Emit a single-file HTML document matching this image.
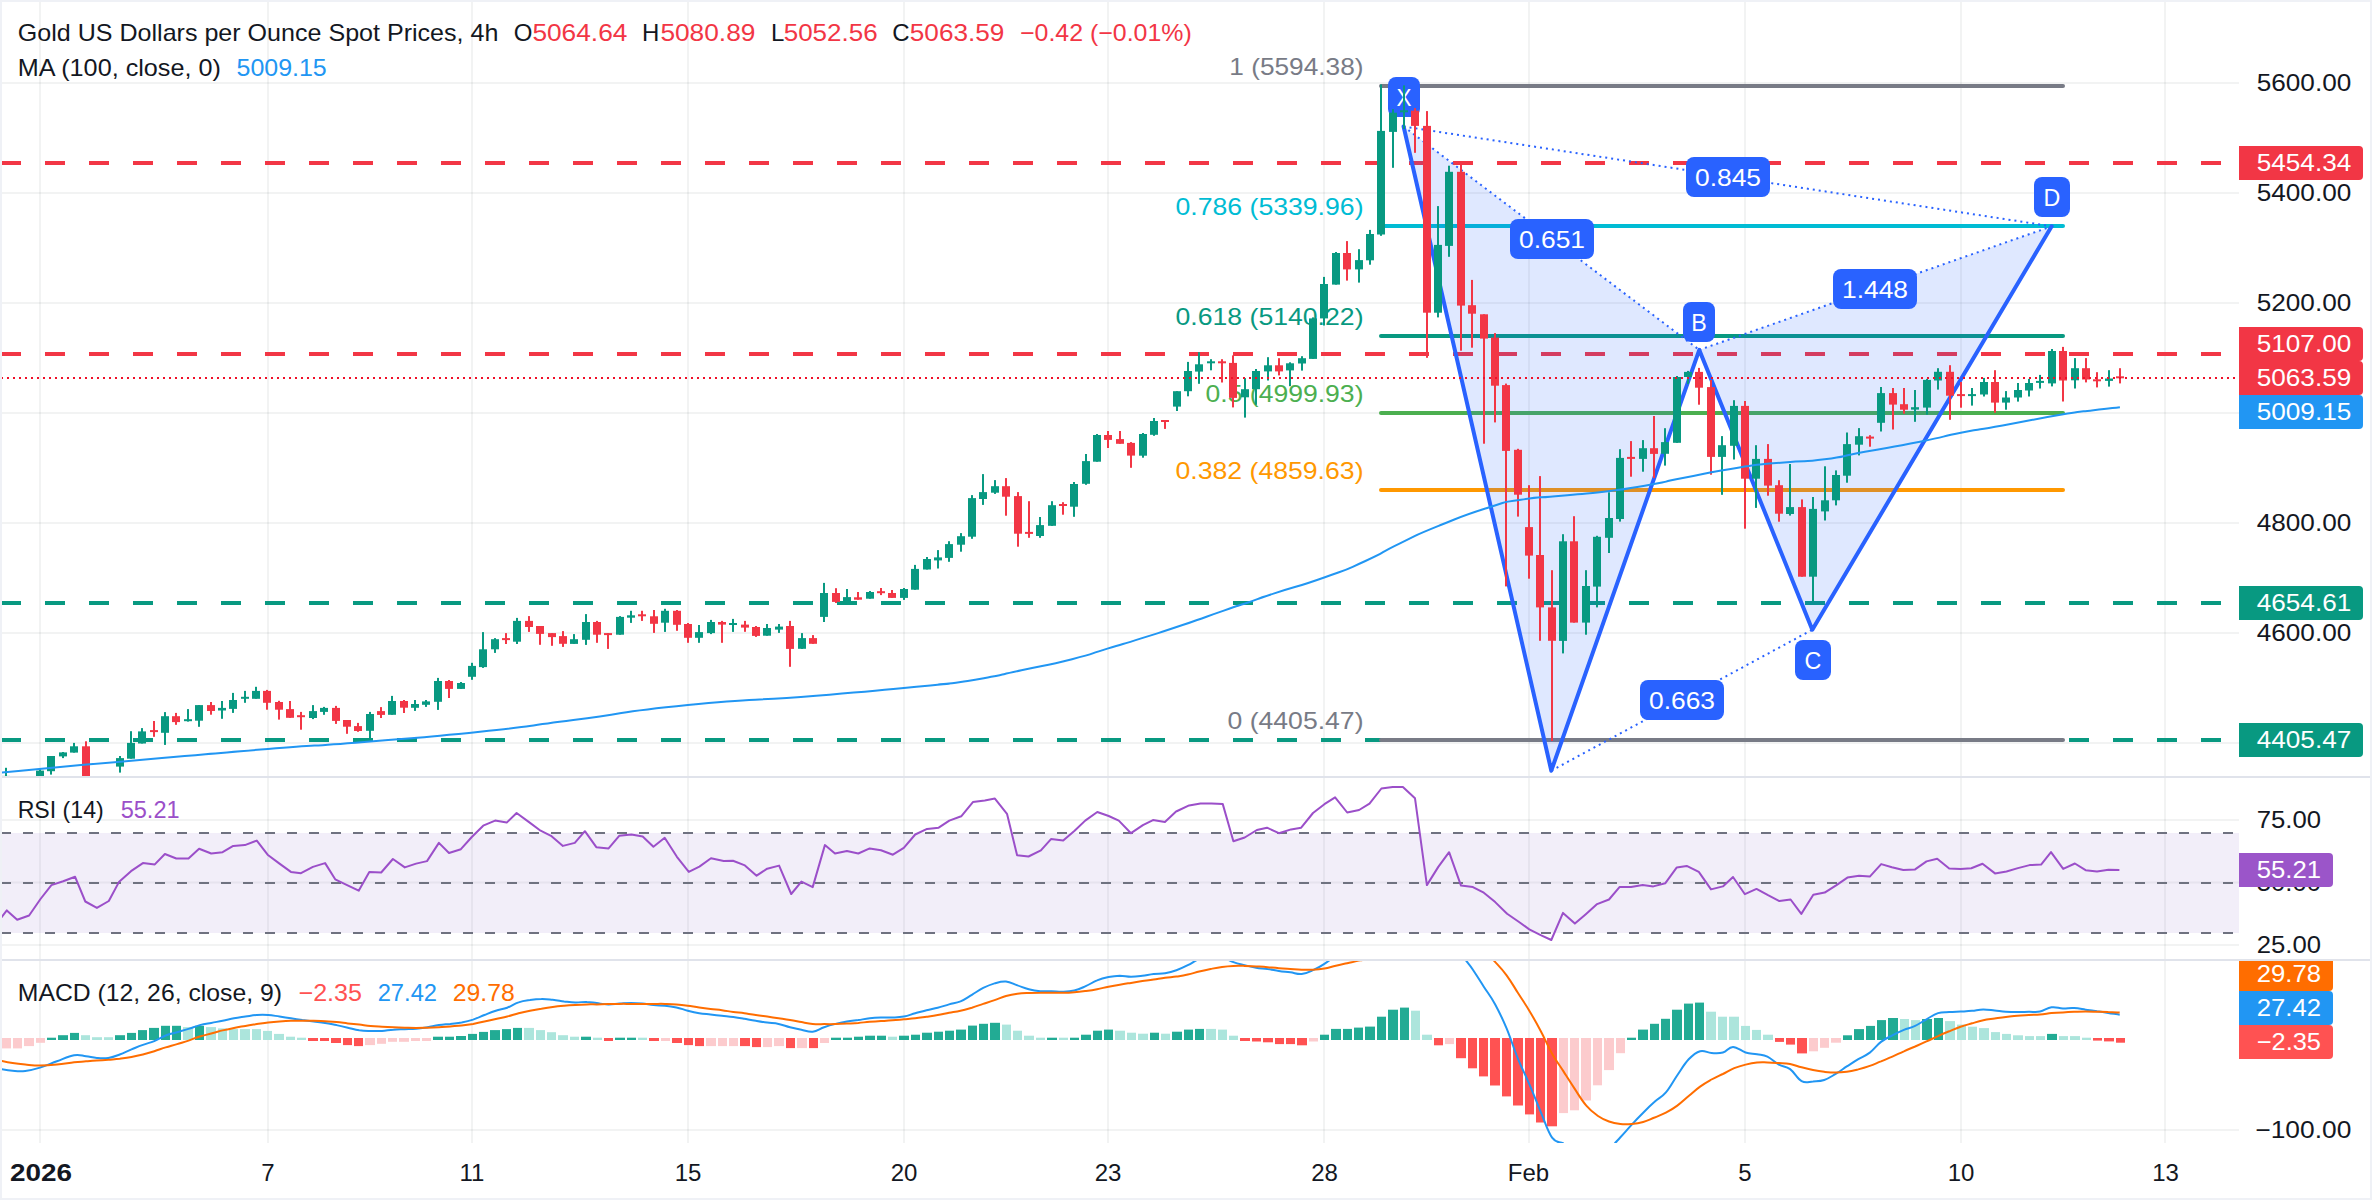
<!DOCTYPE html>
<html lang="en"><head><meta charset="utf-8"><title>Gold US Dollars per Ounce Spot Prices, 4h</title>
<style>html,body{margin:0;padding:0;background:#fff;overflow:hidden}svg text{white-space:pre}</style></head>
<body>
<svg width="2372" height="1200" viewBox="0 0 2372 1200" style="display:block;font-family:'Liberation Sans', sans-serif">
<defs>
<clipPath id="cm"><rect x="2" y="2" width="2237" height="774"/></clipPath>
<clipPath id="cr"><rect x="2" y="778" width="2237" height="181"/></clipPath>
<clipPath id="cd"><rect x="2" y="961" width="2237" height="182"/></clipPath>
<clipPath id="cda"><rect x="2239" y="961" width="140" height="182"/></clipPath>
</defs>
<rect width="2372" height="1200" fill="#eff1f6"/>
<rect x="2" y="2" width="2368" height="1196" fill="#ffffff"/>
<rect x="39" y="2" width="2" height="1141" fill="rgba(42,46,57,0.06)"/>
<rect x="267" y="2" width="2" height="1141" fill="rgba(42,46,57,0.06)"/>
<rect x="471" y="2" width="2" height="1141" fill="rgba(42,46,57,0.06)"/>
<rect x="687" y="2" width="2" height="1141" fill="rgba(42,46,57,0.06)"/>
<rect x="903" y="2" width="2" height="1141" fill="rgba(42,46,57,0.06)"/>
<rect x="1107" y="2" width="2" height="1141" fill="rgba(42,46,57,0.06)"/>
<rect x="1323" y="2" width="2" height="1141" fill="rgba(42,46,57,0.06)"/>
<rect x="1528" y="2" width="2" height="1141" fill="rgba(42,46,57,0.06)"/>
<rect x="1744" y="2" width="2" height="1141" fill="rgba(42,46,57,0.06)"/>
<rect x="1960" y="2" width="2" height="1141" fill="rgba(42,46,57,0.06)"/>
<rect x="2164" y="2" width="2" height="1141" fill="rgba(42,46,57,0.06)"/>
<rect x="2" y="82.0" width="2237" height="2" fill="rgba(42,46,57,0.06)"/>
<rect x="2" y="192.0" width="2237" height="2" fill="rgba(42,46,57,0.06)"/>
<rect x="2" y="302.0" width="2237" height="2" fill="rgba(42,46,57,0.06)"/>
<rect x="2" y="412.0" width="2237" height="2" fill="rgba(42,46,57,0.06)"/>
<rect x="2" y="522.0" width="2237" height="2" fill="rgba(42,46,57,0.06)"/>
<rect x="2" y="632.0" width="2237" height="2" fill="rgba(42,46,57,0.06)"/>
<rect x="2" y="742.0" width="2237" height="2" fill="rgba(42,46,57,0.06)"/>
<rect x="2" y="819.0" width="2237" height="2" fill="rgba(42,46,57,0.06)"/>
<rect x="2" y="881.5" width="2237" height="2" fill="rgba(42,46,57,0.06)"/>
<rect x="2" y="944.0" width="2237" height="2" fill="rgba(42,46,57,0.06)"/>
<rect x="2" y="1129.0" width="2237" height="2" fill="rgba(42,46,57,0.06)"/>
<rect x="2" y="776" width="2368" height="2" fill="#e0e3eb"/>
<rect x="2" y="959" width="2368" height="2" fill="#e0e3eb"/>
<g clip-path="url(#cm)">
<line x1="1" y1="163.0" x2="2239" y2="163.0" stroke="#f23645" stroke-width="4" stroke-dasharray="20 24"/>
<line x1="1" y1="354.0" x2="2239" y2="354.0" stroke="#f23645" stroke-width="4" stroke-dasharray="20 24"/>
<line x1="1" y1="603.0" x2="2239" y2="603.0" stroke="#089981" stroke-width="4" stroke-dasharray="20 24"/>
<line x1="1" y1="740.0" x2="2239" y2="740.0" stroke="#089981" stroke-width="4" stroke-dasharray="20 24"/>
<line x1="1381" y1="86.0" x2="2063" y2="86.0" stroke="#787b86" stroke-width="4" stroke-linecap="round"/>
<text x="1363.5" y="75.3" font-size="24" fill="#787b86" textLength="134.2" lengthAdjust="spacingAndGlyphs" text-anchor="end">1 (5594.38)</text>
<line x1="1381" y1="226.0" x2="2063" y2="226.0" stroke="#00bcd4" stroke-width="4" stroke-linecap="round"/>
<text x="1363.5" y="215.3" font-size="24" fill="#00bcd4" textLength="188.0" lengthAdjust="spacingAndGlyphs" text-anchor="end">0.786 (5339.96)</text>
<line x1="1381" y1="336.0" x2="2063" y2="336.0" stroke="#089981" stroke-width="4" stroke-linecap="round"/>
<text x="1363.5" y="325.3" font-size="24" fill="#089981" textLength="188.0" lengthAdjust="spacingAndGlyphs" text-anchor="end">0.618 (5140.22)</text>
<line x1="1381" y1="413.0" x2="2063" y2="413.0" stroke="#4caf50" stroke-width="4" stroke-linecap="round"/>
<text x="1363.5" y="402.3" font-size="24" fill="#4caf50" textLength="158.0" lengthAdjust="spacingAndGlyphs" text-anchor="end">0.5 (4999.93)</text>
<line x1="1381" y1="490.0" x2="2063" y2="490.0" stroke="#ff9800" stroke-width="4" stroke-linecap="round"/>
<text x="1363.5" y="479.3" font-size="24" fill="#ff9800" textLength="188.0" lengthAdjust="spacingAndGlyphs" text-anchor="end">0.382 (4859.63)</text>
<line x1="1381" y1="740.0" x2="2063" y2="740.0" stroke="#787b86" stroke-width="4" stroke-linecap="round"/>
<text x="1363.5" y="729.3" font-size="24" fill="#787b86" textLength="136.0" lengthAdjust="spacingAndGlyphs" text-anchor="end">0 (4405.47)</text>
<polygon points="1403.6,126.5 1551.3,770.7 1699.3,349.9" fill="#2962ff" fill-opacity="0.15"/>
<polygon points="1699.3,349.9 1812.3,629.7 2051.7,226.3" fill="#2962ff" fill-opacity="0.15"/>
<line x1="1403.6" y1="126.5" x2="1699.3" y2="349.9" stroke="#2962ff" stroke-width="2" stroke-dasharray="2 4"/>
<line x1="1403.6" y1="126.5" x2="2051.7" y2="226.3" stroke="#2962ff" stroke-width="2" stroke-dasharray="2 4"/>
<line x1="1551.3" y1="770.7" x2="1812.3" y2="629.7" stroke="#2962ff" stroke-width="2" stroke-dasharray="2 4"/>
<line x1="1699.3" y1="349.9" x2="2051.7" y2="226.3" stroke="#2962ff" stroke-width="2" stroke-dasharray="2 4"/>
<polyline points="1403.6,126.5 1551.3,770.7 1699.3,349.9 1812.3,629.7 2051.7,226.3" fill="none" stroke="#2962ff" stroke-width="4" stroke-linejoin="round" stroke-linecap="round"/>
<rect x="1388.0" y="77.0" width="32" height="40" rx="8" fill="#2962ff"/>
<text x="1404.0" y="106.3" font-size="24" fill="#ffffff" textLength="15.0" lengthAdjust="spacingAndGlyphs" text-anchor="middle">X</text>
<rect x="1683.0" y="302.0" width="32" height="40" rx="8" fill="#2962ff"/>
<text x="1699.0" y="331.3" font-size="24" fill="#ffffff" textLength="15.5" lengthAdjust="spacingAndGlyphs" text-anchor="middle">B</text>
<rect x="1795.0" y="640.0" width="36" height="40" rx="8" fill="#2962ff"/>
<text x="1813.0" y="669.3" font-size="24" fill="#ffffff" textLength="16.8" lengthAdjust="spacingAndGlyphs" text-anchor="middle">C</text>
<rect x="2034.0" y="177.0" width="36" height="40" rx="8" fill="#2962ff"/>
<text x="2052.0" y="206.3" font-size="24" fill="#ffffff" textLength="16.8" lengthAdjust="spacingAndGlyphs" text-anchor="middle">D</text>
<rect x="1510.0" y="219.0" width="84" height="40" rx="8" fill="#2962ff"/>
<text x="1552.0" y="248.3" font-size="24" fill="#ffffff" textLength="66.0" lengthAdjust="spacingAndGlyphs" text-anchor="middle">0.651</text>
<rect x="1686.0" y="157.0" width="84" height="40" rx="8" fill="#2962ff"/>
<text x="1728.0" y="186.3" font-size="24" fill="#ffffff" textLength="66.0" lengthAdjust="spacingAndGlyphs" text-anchor="middle">0.845</text>
<rect x="1833.0" y="269.0" width="84" height="40" rx="8" fill="#2962ff"/>
<text x="1875.0" y="298.3" font-size="24" fill="#ffffff" textLength="66.0" lengthAdjust="spacingAndGlyphs" text-anchor="middle">1.448</text>
<rect x="1640.0" y="680.0" width="84" height="40" rx="8" fill="#2962ff"/>
<text x="1682.0" y="709.3" font-size="24" fill="#ffffff" textLength="66.0" lengthAdjust="spacingAndGlyphs" text-anchor="middle">0.663</text>
<rect x="5" y="767.8" width="2" height="14.6" fill="#089981"/>
<rect x="2" y="775.9" width="8" height="6.5" fill="#089981"/>
<rect x="39" y="769.2" width="2" height="13.2" fill="#089981"/>
<rect x="36" y="770.6" width="8" height="11.7" fill="#089981"/>
<rect x="50" y="756.0" width="2" height="18.6" fill="#089981"/>
<rect x="47" y="756.0" width="8" height="15.2" fill="#089981"/>
<rect x="62" y="752.0" width="2" height="6.1" fill="#089981"/>
<rect x="59" y="752.4" width="8" height="4.0" fill="#089981"/>
<rect x="73" y="742.9" width="2" height="9.7" fill="#089981"/>
<rect x="70" y="746.3" width="8" height="6.3" fill="#089981"/>
<rect x="85" y="741.3" width="2" height="41.1" fill="#f23645"/>
<rect x="82" y="746.3" width="8" height="36.0" fill="#f23645"/>
<rect x="119" y="756.0" width="2" height="16.6" fill="#089981"/>
<rect x="116" y="758.1" width="8" height="8.5" fill="#089981"/>
<rect x="130" y="731.2" width="2" height="27.5" fill="#089981"/>
<rect x="127" y="742.9" width="8" height="15.8" fill="#089981"/>
<rect x="141" y="728.1" width="2" height="15.4" fill="#089981"/>
<rect x="138" y="731.4" width="8" height="12.1" fill="#089981"/>
<rect x="153" y="721.0" width="2" height="15.8" fill="#f23645"/>
<rect x="150" y="730.1" width="8" height="2.0" fill="#f23645"/>
<rect x="164" y="712.1" width="2" height="32.8" fill="#089981"/>
<rect x="161" y="716.2" width="8" height="16.6" fill="#089981"/>
<rect x="175" y="712.9" width="2" height="11.9" fill="#f23645"/>
<rect x="172" y="716.2" width="8" height="5.9" fill="#f23645"/>
<rect x="187" y="709.1" width="2" height="12.5" fill="#089981"/>
<rect x="184" y="719.2" width="8" height="2.0" fill="#089981"/>
<rect x="198" y="705.1" width="2" height="21.7" fill="#089981"/>
<rect x="195" y="705.1" width="8" height="15.6" fill="#089981"/>
<rect x="210" y="702.0" width="2" height="12.7" fill="#f23645"/>
<rect x="207" y="705.1" width="8" height="5.9" fill="#f23645"/>
<rect x="221" y="701.0" width="2" height="17.8" fill="#089981"/>
<rect x="218" y="707.9" width="8" height="2.6" fill="#089981"/>
<rect x="232" y="692.9" width="2" height="20.0" fill="#089981"/>
<rect x="229" y="700.0" width="8" height="8.9" fill="#089981"/>
<rect x="244" y="690.9" width="2" height="11.9" fill="#089981"/>
<rect x="241" y="696.8" width="8" height="2.0" fill="#089981"/>
<rect x="255" y="686.8" width="2" height="11.9" fill="#089981"/>
<rect x="252" y="690.9" width="8" height="7.9" fill="#089981"/>
<rect x="266" y="689.9" width="2" height="19.8" fill="#f23645"/>
<rect x="263" y="690.9" width="8" height="11.9" fill="#f23645"/>
<rect x="278" y="700.8" width="2" height="18.8" fill="#f23645"/>
<rect x="275" y="702.0" width="8" height="7.7" fill="#f23645"/>
<rect x="289" y="701.0" width="2" height="16.8" fill="#f23645"/>
<rect x="286" y="709.1" width="8" height="8.7" fill="#f23645"/>
<rect x="300" y="711.9" width="2" height="17.8" fill="#f23645"/>
<rect x="297" y="715.2" width="8" height="2.0" fill="#f23645"/>
<rect x="312" y="705.1" width="2" height="14.0" fill="#089981"/>
<rect x="309" y="711.1" width="8" height="6.9" fill="#089981"/>
<rect x="323" y="706.9" width="2" height="7.9" fill="#089981"/>
<rect x="320" y="707.9" width="8" height="4.0" fill="#089981"/>
<rect x="335" y="705.9" width="2" height="18.0" fill="#f23645"/>
<rect x="332" y="707.9" width="8" height="13.0" fill="#f23645"/>
<rect x="346" y="720.0" width="2" height="13.8" fill="#f23645"/>
<rect x="343" y="720.0" width="8" height="6.7" fill="#f23645"/>
<rect x="357" y="722.9" width="2" height="8.9" fill="#f23645"/>
<rect x="354" y="726.1" width="8" height="4.9" fill="#f23645"/>
<rect x="369" y="711.9" width="2" height="27.9" fill="#089981"/>
<rect x="366" y="714.0" width="8" height="16.8" fill="#089981"/>
<rect x="380" y="707.1" width="2" height="10.9" fill="#f23645"/>
<rect x="377" y="711.1" width="8" height="3.8" fill="#f23645"/>
<rect x="391" y="695.9" width="2" height="18.8" fill="#089981"/>
<rect x="388" y="701.0" width="8" height="13.8" fill="#089981"/>
<rect x="403" y="700.0" width="2" height="13.0" fill="#f23645"/>
<rect x="400" y="701.0" width="8" height="6.7" fill="#f23645"/>
<rect x="414" y="700.0" width="2" height="10.9" fill="#089981"/>
<rect x="411" y="704.0" width="8" height="3.8" fill="#089981"/>
<rect x="425" y="700.0" width="2" height="6.9" fill="#089981"/>
<rect x="422" y="701.4" width="8" height="3.4" fill="#089981"/>
<rect x="437" y="677.9" width="2" height="32.0" fill="#089981"/>
<rect x="434" y="681.0" width="8" height="20.8" fill="#089981"/>
<rect x="448" y="680.0" width="2" height="18.0" fill="#f23645"/>
<rect x="445" y="681.0" width="8" height="7.9" fill="#f23645"/>
<rect x="460" y="682.0" width="2" height="6.9" fill="#089981"/>
<rect x="457" y="683.0" width="8" height="5.9" fill="#089981"/>
<rect x="471" y="662.8" width="2" height="17.0" fill="#089981"/>
<rect x="468" y="665.9" width="8" height="10.9" fill="#089981"/>
<rect x="482" y="632.1" width="2" height="35.8" fill="#089981"/>
<rect x="479" y="649.3" width="8" height="17.8" fill="#089981"/>
<rect x="494" y="638.1" width="2" height="14.8" fill="#089981"/>
<rect x="491" y="639.2" width="8" height="10.1" fill="#089981"/>
<rect x="505" y="633.1" width="2" height="10.9" fill="#f23645"/>
<rect x="502" y="638.1" width="8" height="2.0" fill="#f23645"/>
<rect x="516" y="617.9" width="2" height="26.1" fill="#089981"/>
<rect x="513" y="620.9" width="8" height="20.8" fill="#089981"/>
<rect x="528" y="616.1" width="2" height="15.8" fill="#f23645"/>
<rect x="525" y="620.9" width="8" height="6.1" fill="#f23645"/>
<rect x="539" y="626.0" width="2" height="18.8" fill="#f23645"/>
<rect x="536" y="626.0" width="8" height="7.9" fill="#f23645"/>
<rect x="551" y="633.1" width="2" height="12.7" fill="#f23645"/>
<rect x="548" y="633.1" width="8" height="4.0" fill="#f23645"/>
<rect x="562" y="631.1" width="2" height="15.8" fill="#f23645"/>
<rect x="559" y="636.1" width="8" height="7.7" fill="#f23645"/>
<rect x="573" y="634.1" width="2" height="9.7" fill="#089981"/>
<rect x="570" y="639.2" width="8" height="4.7" fill="#089981"/>
<rect x="585" y="614.1" width="2" height="30.8" fill="#089981"/>
<rect x="582" y="622.0" width="8" height="17.8" fill="#089981"/>
<rect x="596" y="620.9" width="2" height="21.9" fill="#f23645"/>
<rect x="593" y="622.0" width="8" height="12.7" fill="#f23645"/>
<rect x="607" y="633.1" width="2" height="15.8" fill="#f23645"/>
<rect x="604" y="633.1" width="8" height="2.0" fill="#f23645"/>
<rect x="619" y="616.1" width="2" height="18.6" fill="#089981"/>
<rect x="616" y="616.9" width="8" height="17.8" fill="#089981"/>
<rect x="630" y="610.8" width="2" height="12.1" fill="#089981"/>
<rect x="627" y="615.3" width="8" height="2.4" fill="#089981"/>
<rect x="641" y="610.8" width="2" height="10.1" fill="#f23645"/>
<rect x="638" y="614.3" width="8" height="2.0" fill="#f23645"/>
<rect x="653" y="610.0" width="2" height="22.9" fill="#f23645"/>
<rect x="650" y="616.3" width="8" height="7.5" fill="#f23645"/>
<rect x="664" y="608.8" width="2" height="23.1" fill="#089981"/>
<rect x="661" y="610.8" width="8" height="11.9" fill="#089981"/>
<rect x="676" y="610.0" width="2" height="20.8" fill="#f23645"/>
<rect x="673" y="610.8" width="8" height="14.0" fill="#f23645"/>
<rect x="687" y="623.0" width="2" height="19.8" fill="#f23645"/>
<rect x="684" y="624.0" width="8" height="13.8" fill="#f23645"/>
<rect x="698" y="625.0" width="2" height="17.8" fill="#089981"/>
<rect x="695" y="632.1" width="8" height="5.7" fill="#089981"/>
<rect x="710" y="619.9" width="2" height="14.2" fill="#089981"/>
<rect x="707" y="622.0" width="8" height="11.1" fill="#089981"/>
<rect x="721" y="620.9" width="2" height="21.9" fill="#f23645"/>
<rect x="718" y="622.0" width="8" height="2.6" fill="#f23645"/>
<rect x="732" y="618.9" width="2" height="13.0" fill="#089981"/>
<rect x="729" y="623.0" width="8" height="2.0" fill="#089981"/>
<rect x="744" y="620.9" width="2" height="10.9" fill="#f23645"/>
<rect x="741" y="624.6" width="8" height="3.0" fill="#f23645"/>
<rect x="755" y="626.0" width="2" height="10.9" fill="#f23645"/>
<rect x="752" y="627.0" width="8" height="8.9" fill="#f23645"/>
<rect x="766" y="624.0" width="2" height="11.7" fill="#089981"/>
<rect x="763" y="628.0" width="8" height="7.7" fill="#089981"/>
<rect x="778" y="624.0" width="2" height="8.9" fill="#089981"/>
<rect x="775" y="626.6" width="8" height="3.0" fill="#089981"/>
<rect x="789" y="620.9" width="2" height="45.9" fill="#f23645"/>
<rect x="786" y="626.0" width="8" height="22.9" fill="#f23645"/>
<rect x="801" y="633.1" width="2" height="15.8" fill="#089981"/>
<rect x="798" y="638.1" width="8" height="10.7" fill="#089981"/>
<rect x="812" y="635.1" width="2" height="8.7" fill="#f23645"/>
<rect x="809" y="638.1" width="8" height="5.7" fill="#f23645"/>
<rect x="823" y="582.9" width="2" height="39.1" fill="#089981"/>
<rect x="820" y="593.0" width="8" height="23.9" fill="#089981"/>
<rect x="835" y="588.2" width="2" height="14.8" fill="#f23645"/>
<rect x="832" y="593.0" width="8" height="8.9" fill="#f23645"/>
<rect x="846" y="589.0" width="2" height="13.0" fill="#089981"/>
<rect x="843" y="597.1" width="8" height="4.9" fill="#089981"/>
<rect x="857" y="592.0" width="2" height="7.7" fill="#f23645"/>
<rect x="854" y="597.3" width="8" height="2.4" fill="#f23645"/>
<rect x="869" y="591.0" width="2" height="7.7" fill="#089981"/>
<rect x="866" y="592.0" width="8" height="6.7" fill="#089981"/>
<rect x="880" y="588.0" width="2" height="7.1" fill="#f23645"/>
<rect x="877" y="591.2" width="8" height="2.0" fill="#f23645"/>
<rect x="891" y="590.0" width="2" height="7.9" fill="#f23645"/>
<rect x="888" y="593.0" width="8" height="4.9" fill="#f23645"/>
<rect x="903" y="588.0" width="2" height="11.9" fill="#089981"/>
<rect x="900" y="589.0" width="8" height="8.9" fill="#089981"/>
<rect x="914" y="564.9" width="2" height="24.9" fill="#089981"/>
<rect x="911" y="568.9" width="8" height="20.8" fill="#089981"/>
<rect x="926" y="557.0" width="2" height="12.5" fill="#089981"/>
<rect x="923" y="559.0" width="8" height="10.5" fill="#089981"/>
<rect x="937" y="550.1" width="2" height="18.4" fill="#089981"/>
<rect x="934" y="557.4" width="8" height="3.0" fill="#089981"/>
<rect x="948" y="541.2" width="2" height="20.6" fill="#089981"/>
<rect x="945" y="544.1" width="8" height="13.8" fill="#089981"/>
<rect x="960" y="533.1" width="2" height="18.6" fill="#089981"/>
<rect x="957" y="536.2" width="8" height="8.5" fill="#089981"/>
<rect x="971" y="495.1" width="2" height="43.7" fill="#089981"/>
<rect x="968" y="498.1" width="8" height="38.6" fill="#089981"/>
<rect x="982" y="474.1" width="2" height="30.8" fill="#089981"/>
<rect x="979" y="492.1" width="8" height="6.9" fill="#089981"/>
<rect x="994" y="480.1" width="2" height="13.8" fill="#089981"/>
<rect x="991" y="486.2" width="8" height="6.5" fill="#089981"/>
<rect x="1005" y="478.1" width="2" height="37.6" fill="#f23645"/>
<rect x="1002" y="486.2" width="8" height="10.5" fill="#f23645"/>
<rect x="1017" y="492.1" width="2" height="54.6" fill="#f23645"/>
<rect x="1014" y="496.1" width="8" height="37.6" fill="#f23645"/>
<rect x="1028" y="501.2" width="2" height="36.6" fill="#f23645"/>
<rect x="1025" y="531.9" width="8" height="2.0" fill="#f23645"/>
<rect x="1039" y="517.0" width="2" height="20.8" fill="#089981"/>
<rect x="1036" y="525.1" width="8" height="10.9" fill="#089981"/>
<rect x="1051" y="501.2" width="2" height="24.7" fill="#089981"/>
<rect x="1048" y="505.2" width="8" height="20.6" fill="#089981"/>
<rect x="1062" y="502.2" width="2" height="12.5" fill="#f23645"/>
<rect x="1059" y="504.0" width="8" height="2.0" fill="#f23645"/>
<rect x="1073" y="482.0" width="2" height="34.8" fill="#089981"/>
<rect x="1070" y="484.0" width="8" height="22.7" fill="#089981"/>
<rect x="1085" y="454.0" width="2" height="30.8" fill="#089981"/>
<rect x="1082" y="461.1" width="8" height="22.7" fill="#089981"/>
<rect x="1096" y="434.0" width="2" height="27.7" fill="#089981"/>
<rect x="1093" y="435.0" width="8" height="26.7" fill="#089981"/>
<rect x="1107" y="431.0" width="2" height="17.0" fill="#f23645"/>
<rect x="1104" y="435.0" width="8" height="4.9" fill="#f23645"/>
<rect x="1119" y="431.0" width="2" height="12.7" fill="#f23645"/>
<rect x="1116" y="439.1" width="8" height="4.7" fill="#f23645"/>
<rect x="1130" y="442.1" width="2" height="25.7" fill="#f23645"/>
<rect x="1127" y="442.9" width="8" height="12.7" fill="#f23645"/>
<rect x="1142" y="433.0" width="2" height="24.7" fill="#089981"/>
<rect x="1139" y="434.0" width="8" height="21.7" fill="#089981"/>
<rect x="1153" y="418.0" width="2" height="17.8" fill="#089981"/>
<rect x="1150" y="421.0" width="8" height="13.8" fill="#089981"/>
<rect x="1164" y="420.0" width="2" height="8.9" fill="#f23645"/>
<rect x="1161" y="420.0" width="8" height="2.0" fill="#f23645"/>
<rect x="1176" y="391.2" width="2" height="19.8" fill="#089981"/>
<rect x="1173" y="391.2" width="8" height="15.4" fill="#089981"/>
<rect x="1187" y="361.9" width="2" height="34.4" fill="#089981"/>
<rect x="1184" y="371.0" width="8" height="20.2" fill="#089981"/>
<rect x="1198" y="352.2" width="2" height="31.6" fill="#089981"/>
<rect x="1195" y="364.3" width="8" height="7.3" fill="#089981"/>
<rect x="1210" y="359.2" width="2" height="11.1" fill="#089981"/>
<rect x="1207" y="361.3" width="8" height="2.0" fill="#089981"/>
<rect x="1221" y="359.2" width="2" height="23.3" fill="#f23645"/>
<rect x="1218" y="361.3" width="8" height="2.0" fill="#f23645"/>
<rect x="1232" y="355.4" width="2" height="52.0" fill="#f23645"/>
<rect x="1229" y="362.9" width="8" height="35.0" fill="#f23645"/>
<rect x="1244" y="378.1" width="2" height="39.5" fill="#089981"/>
<rect x="1241" y="389.2" width="8" height="8.1" fill="#089981"/>
<rect x="1255" y="369.0" width="2" height="35.8" fill="#089981"/>
<rect x="1252" y="371.0" width="8" height="18.2" fill="#089981"/>
<rect x="1267" y="357.2" width="2" height="23.3" fill="#089981"/>
<rect x="1264" y="365.3" width="8" height="6.1" fill="#089981"/>
<rect x="1278" y="358.2" width="2" height="17.2" fill="#f23645"/>
<rect x="1275" y="365.3" width="8" height="6.1" fill="#f23645"/>
<rect x="1289" y="362.3" width="2" height="23.9" fill="#089981"/>
<rect x="1286" y="363.3" width="8" height="7.1" fill="#089981"/>
<rect x="1301" y="356.2" width="2" height="14.4" fill="#089981"/>
<rect x="1298" y="358.2" width="8" height="5.3" fill="#089981"/>
<rect x="1312" y="317.4" width="2" height="41.5" fill="#089981"/>
<rect x="1309" y="318.4" width="8" height="40.5" fill="#089981"/>
<rect x="1323" y="276.9" width="2" height="48.6" fill="#089981"/>
<rect x="1320" y="284.0" width="8" height="34.4" fill="#089981"/>
<rect x="1335" y="252.0" width="2" height="32.6" fill="#089981"/>
<rect x="1332" y="253.0" width="8" height="31.6" fill="#089981"/>
<rect x="1346" y="241.1" width="2" height="39.5" fill="#f23645"/>
<rect x="1343" y="253.0" width="8" height="16.4" fill="#f23645"/>
<rect x="1358" y="249.2" width="2" height="33.4" fill="#089981"/>
<rect x="1355" y="260.1" width="8" height="9.3" fill="#089981"/>
<rect x="1369" y="229.9" width="2" height="34.8" fill="#089981"/>
<rect x="1366" y="234.0" width="8" height="26.3" fill="#089981"/>
<rect x="1380" y="84.4" width="2" height="151.4" fill="#089981"/>
<rect x="1377" y="130.9" width="8" height="103.6" fill="#089981"/>
<rect x="1392" y="109.1" width="2" height="58.7" fill="#089981"/>
<rect x="1389" y="112.7" width="8" height="19.2" fill="#089981"/>
<rect x="1403" y="85.4" width="2" height="43.5" fill="#089981"/>
<rect x="1400" y="110.3" width="8" height="2.0" fill="#089981"/>
<rect x="1414" y="108.1" width="2" height="44.7" fill="#f23645"/>
<rect x="1411" y="110.7" width="8" height="15.2" fill="#f23645"/>
<rect x="1426" y="111.1" width="2" height="246.7" fill="#f23645"/>
<rect x="1423" y="125.9" width="8" height="186.8" fill="#f23645"/>
<rect x="1437" y="206.1" width="2" height="111.3" fill="#089981"/>
<rect x="1434" y="244.9" width="8" height="67.8" fill="#089981"/>
<rect x="1448" y="165.7" width="2" height="91.1" fill="#089981"/>
<rect x="1445" y="171.8" width="8" height="74.1" fill="#089981"/>
<rect x="1460" y="164.7" width="2" height="186.0" fill="#f23645"/>
<rect x="1457" y="171.8" width="8" height="133.8" fill="#f23645"/>
<rect x="1471" y="279.9" width="2" height="67.8" fill="#f23645"/>
<rect x="1468" y="305.2" width="8" height="8.5" fill="#f23645"/>
<rect x="1483" y="314.3" width="2" height="129.4" fill="#f23645"/>
<rect x="1480" y="314.3" width="8" height="24.3" fill="#f23645"/>
<rect x="1494" y="333.1" width="2" height="89.3" fill="#f23645"/>
<rect x="1491" y="337.6" width="8" height="48.1" fill="#f23645"/>
<rect x="1505" y="383.6" width="2" height="202.8" fill="#f23645"/>
<rect x="1502" y="385.1" width="8" height="65.8" fill="#f23645"/>
<rect x="1517" y="448.8" width="2" height="67.8" fill="#f23645"/>
<rect x="1514" y="449.8" width="8" height="44.9" fill="#f23645"/>
<rect x="1528" y="485.2" width="2" height="93.5" fill="#f23645"/>
<rect x="1525" y="527.1" width="8" height="28.5" fill="#f23645"/>
<rect x="1539" y="476.1" width="2" height="164.7" fill="#f23645"/>
<rect x="1536" y="555.0" width="8" height="52.4" fill="#f23645"/>
<rect x="1551" y="570.2" width="2" height="170.8" fill="#f23645"/>
<rect x="1548" y="607.4" width="8" height="33.4" fill="#f23645"/>
<rect x="1562" y="534.2" width="2" height="119.2" fill="#089981"/>
<rect x="1559" y="541.3" width="8" height="99.6" fill="#089981"/>
<rect x="1573" y="516.2" width="2" height="106.4" fill="#f23645"/>
<rect x="1570" y="541.3" width="8" height="81.3" fill="#f23645"/>
<rect x="1585" y="570.2" width="2" height="64.5" fill="#089981"/>
<rect x="1582" y="586.0" width="8" height="36.6" fill="#089981"/>
<rect x="1596" y="535.8" width="2" height="71.6" fill="#089981"/>
<rect x="1593" y="536.8" width="8" height="49.8" fill="#089981"/>
<rect x="1608" y="492.3" width="2" height="60.7" fill="#089981"/>
<rect x="1605" y="518.0" width="8" height="19.8" fill="#089981"/>
<rect x="1619" y="449.2" width="2" height="72.4" fill="#089981"/>
<rect x="1616" y="457.9" width="8" height="61.1" fill="#089981"/>
<rect x="1630" y="441.1" width="2" height="35.6" fill="#f23645"/>
<rect x="1627" y="456.9" width="8" height="2.0" fill="#f23645"/>
<rect x="1642" y="440.1" width="2" height="31.6" fill="#089981"/>
<rect x="1639" y="448.2" width="8" height="10.7" fill="#089981"/>
<rect x="1653" y="416.0" width="2" height="62.1" fill="#f23645"/>
<rect x="1650" y="448.2" width="8" height="5.7" fill="#f23645"/>
<rect x="1664" y="428.2" width="2" height="37.4" fill="#089981"/>
<rect x="1661" y="442.1" width="8" height="11.7" fill="#089981"/>
<rect x="1676" y="376.0" width="2" height="66.8" fill="#089981"/>
<rect x="1673" y="377.0" width="8" height="65.8" fill="#089981"/>
<rect x="1687" y="370.9" width="2" height="13.2" fill="#089981"/>
<rect x="1684" y="371.9" width="8" height="5.1" fill="#089981"/>
<rect x="1698" y="367.9" width="2" height="36.8" fill="#f23645"/>
<rect x="1695" y="371.9" width="8" height="15.8" fill="#f23645"/>
<rect x="1710" y="380.0" width="2" height="94.7" fill="#f23645"/>
<rect x="1707" y="387.1" width="8" height="69.8" fill="#f23645"/>
<rect x="1721" y="436.1" width="2" height="58.7" fill="#089981"/>
<rect x="1718" y="445.2" width="8" height="11.7" fill="#089981"/>
<rect x="1733" y="400.2" width="2" height="59.3" fill="#089981"/>
<rect x="1730" y="405.9" width="8" height="39.9" fill="#089981"/>
<rect x="1744" y="401.0" width="2" height="127.7" fill="#f23645"/>
<rect x="1741" y="405.9" width="8" height="72.8" fill="#f23645"/>
<rect x="1755" y="445.2" width="2" height="62.7" fill="#089981"/>
<rect x="1752" y="458.9" width="8" height="19.8" fill="#089981"/>
<rect x="1767" y="444.1" width="2" height="51.6" fill="#f23645"/>
<rect x="1764" y="458.9" width="8" height="26.7" fill="#f23645"/>
<rect x="1778" y="480.2" width="2" height="41.5" fill="#f23645"/>
<rect x="1775" y="485.2" width="8" height="28.5" fill="#f23645"/>
<rect x="1789" y="464.0" width="2" height="51.6" fill="#089981"/>
<rect x="1786" y="507.1" width="8" height="6.9" fill="#089981"/>
<rect x="1801" y="499.4" width="2" height="77.3" fill="#f23645"/>
<rect x="1798" y="507.1" width="8" height="69.6" fill="#f23645"/>
<rect x="1812" y="497.0" width="2" height="104.4" fill="#089981"/>
<rect x="1809" y="508.9" width="8" height="67.8" fill="#089981"/>
<rect x="1824" y="466.3" width="2" height="54.2" fill="#089981"/>
<rect x="1821" y="500.3" width="8" height="11.1" fill="#089981"/>
<rect x="1835" y="470.4" width="2" height="35.0" fill="#089981"/>
<rect x="1832" y="475.0" width="8" height="25.3" fill="#089981"/>
<rect x="1846" y="432.5" width="2" height="50.2" fill="#089981"/>
<rect x="1843" y="444.1" width="8" height="31.6" fill="#089981"/>
<rect x="1858" y="428.1" width="2" height="27.3" fill="#089981"/>
<rect x="1855" y="436.2" width="8" height="8.5" fill="#089981"/>
<rect x="1869" y="435.2" width="2" height="11.5" fill="#f23645"/>
<rect x="1866" y="436.6" width="8" height="2.0" fill="#f23645"/>
<rect x="1880" y="387.0" width="2" height="44.5" fill="#089981"/>
<rect x="1877" y="393.1" width="8" height="29.7" fill="#089981"/>
<rect x="1892" y="388.0" width="2" height="41.5" fill="#f23645"/>
<rect x="1889" y="393.1" width="8" height="11.5" fill="#f23645"/>
<rect x="1903" y="388.0" width="2" height="25.7" fill="#f23645"/>
<rect x="1900" y="404.2" width="8" height="5.5" fill="#f23645"/>
<rect x="1914" y="390.0" width="2" height="31.8" fill="#089981"/>
<rect x="1911" y="407.2" width="8" height="2.4" fill="#089981"/>
<rect x="1926" y="378.9" width="2" height="35.8" fill="#089981"/>
<rect x="1923" y="379.9" width="8" height="27.7" fill="#089981"/>
<rect x="1937" y="368.2" width="2" height="21.4" fill="#089981"/>
<rect x="1934" y="371.8" width="8" height="8.7" fill="#089981"/>
<rect x="1949" y="365.2" width="2" height="54.6" fill="#f23645"/>
<rect x="1946" y="371.8" width="8" height="23.9" fill="#f23645"/>
<rect x="1960" y="382.0" width="2" height="25.7" fill="#f23645"/>
<rect x="1957" y="394.1" width="8" height="2.0" fill="#f23645"/>
<rect x="1971" y="388.0" width="2" height="17.6" fill="#089981"/>
<rect x="1968" y="394.1" width="8" height="2.0" fill="#089981"/>
<rect x="1983" y="377.9" width="2" height="18.6" fill="#089981"/>
<rect x="1980" y="382.0" width="8" height="12.5" fill="#089981"/>
<rect x="1994" y="370.2" width="2" height="42.5" fill="#f23645"/>
<rect x="1991" y="382.0" width="8" height="20.6" fill="#f23645"/>
<rect x="2005" y="391.1" width="2" height="18.6" fill="#089981"/>
<rect x="2002" y="397.5" width="8" height="5.1" fill="#089981"/>
<rect x="2017" y="383.0" width="2" height="18.6" fill="#089981"/>
<rect x="2014" y="390.0" width="8" height="7.5" fill="#089981"/>
<rect x="2028" y="378.9" width="2" height="17.6" fill="#089981"/>
<rect x="2025" y="383.0" width="8" height="7.5" fill="#089981"/>
<rect x="2039" y="374.9" width="2" height="13.6" fill="#089981"/>
<rect x="2036" y="380.9" width="8" height="2.0" fill="#089981"/>
<rect x="2051" y="349.0" width="2" height="37.4" fill="#089981"/>
<rect x="2048" y="351.0" width="8" height="32.4" fill="#089981"/>
<rect x="2062" y="346.9" width="2" height="54.6" fill="#f23645"/>
<rect x="2059" y="351.0" width="8" height="29.5" fill="#f23645"/>
<rect x="2074" y="358.1" width="2" height="30.4" fill="#089981"/>
<rect x="2071" y="368.2" width="8" height="12.1" fill="#089981"/>
<rect x="2085" y="358.1" width="2" height="24.3" fill="#f23645"/>
<rect x="2082" y="368.2" width="8" height="11.3" fill="#f23645"/>
<rect x="2096" y="372.2" width="2" height="15.2" fill="#f23645"/>
<rect x="2093" y="379.3" width="8" height="2.0" fill="#f23645"/>
<rect x="2108" y="370.2" width="2" height="16.4" fill="#089981"/>
<rect x="2105" y="378.5" width="8" height="2.4" fill="#089981"/>
<rect x="2119" y="368.2" width="2" height="15.2" fill="#f23645"/>
<rect x="2116" y="376.3" width="8" height="2.0" fill="#f23645"/>
<path d="M0.0 772.6C27.0 770.1 27.0 770.0 80.9 765.1C134.9 760.3 99.6 763.5 161.9 758.1C224.2 752.7 200.5 754.4 267.9 749.0C335.4 743.6 293.5 747.6 364.2 741.9C434.9 736.1 410.3 739.0 480.0 731.8C549.7 724.5 504.0 729.0 573.3 720.1C642.6 711.1 606.9 713.0 687.8 704.9C768.8 696.8 735.3 702.3 816.1 695.8C897.0 689.3 889.1 689.3 930.4 685.5C971.6 681.6 929.9 685.4 940.0 684.3C950.1 683.1 943.7 684.5 960.7 682.0C977.7 679.5 970.8 680.7 991.1 676.8C1011.3 672.8 994.4 676.1 1021.4 670.3C1048.4 664.4 1043.3 666.4 1072.0 659.2C1100.7 651.9 1083.8 655.7 1107.4 648.6C1131.0 641.5 1117.5 645.9 1142.8 637.9C1168.1 629.9 1156.3 633.9 1183.3 624.8C1210.3 615.6 1202.2 618.0 1223.8 610.6C1245.3 603.2 1231.2 608.2 1248.0 602.5C1264.9 596.8 1248.7 601.8 1274.3 593.4C1300.0 585.0 1294.6 588.0 1324.9 577.2C1355.3 566.4 1340.4 572.3 1365.4 561.0C1390.4 549.7 1375.1 555.2 1400.0 543.3C1424.8 531.4 1410.5 537.2 1440.0 525.3C1469.5 513.4 1461.6 516.0 1488.6 507.5C1515.5 499.0 1496.7 503.7 1520.9 499.8C1545.2 495.9 1532.4 498.6 1561.4 495.7C1590.4 492.9 1577.6 495.1 1607.9 491.3C1638.3 487.4 1627.5 488.6 1652.5 484.2C1677.4 479.8 1653.8 483.7 1682.8 478.1C1711.8 472.5 1705.7 472.7 1739.5 467.4C1773.2 462.2 1755.7 465.1 1784.0 462.4C1812.3 459.7 1797.5 462.8 1824.5 459.3C1851.4 455.8 1833.1 457.7 1864.9 451.8C1896.8 446.0 1887.6 448.1 1920.0 441.7C1952.4 435.3 1934.6 438.0 1962.1 432.5C1989.7 427.1 1968.9 431.5 2002.6 425.5C2036.3 419.4 2032.9 419.4 2063.3 414.3C2093.6 409.3 2074.8 412.6 2093.6 410.3C2112.5 407.9 2111.2 408.3 2119.9 407.2" fill="none" stroke="#2196f3" stroke-width="2" stroke-linejoin="round"/>
<line x1="1" y1="378.0" x2="2236" y2="378.0" stroke="#f00f28" stroke-width="2" stroke-dasharray="2 4"/>
</g>
<g clip-path="url(#cr)">
<rect x="2" y="833" width="2237" height="100" fill="#7e57c2" fill-opacity="0.1"/>
<line x1="1" y1="833" x2="2239" y2="833" stroke="#6f7280" stroke-width="2" stroke-dasharray="10 12"/>
<line x1="1" y1="883" x2="2239" y2="883" stroke="#6f7280" stroke-width="2" stroke-dasharray="10 12"/>
<line x1="1" y1="933" x2="2239" y2="933" stroke="#6f7280" stroke-width="2" stroke-dasharray="10 12"/>
<polyline points="0.0,919.3 6.8,910.4 17.2,919.8 29.1,915.5 40.5,899.0 51.4,885.1 63.2,881.3 75.1,876.8 85.3,901.5 96.9,907.9 108.8,901.0 118.9,882.1 131.0,871.2 142.9,863.1 154.8,864.4 164.9,854.0 176.3,858.5 188.5,858.5 199.1,848.7 211.2,853.5 222.6,852.2 233.2,845.9 244.9,845.1 256.8,840.6 267.6,854.7 279.5,863.6 290.9,871.9 301.0,873.2 312.9,866.9 325.1,863.1 335.2,879.3 347.1,885.1 358.7,890.7 369.3,871.9 381.2,872.5 392.9,859.0 404.8,867.4 416.1,863.6 427.0,861.1 438.9,842.9 449.0,853.0 460.9,849.2 471.8,837.0 483.2,825.7 495.1,820.6 506.7,822.6 516.6,813.0 528.7,821.9 540.6,830.7 551.0,835.8 562.9,845.9 574.8,842.9 584.9,831.2 596.3,847.2 608.6,848.4 619.2,835.8 631.4,834.5 642.7,836.5 653.4,846.7 664.7,837.8 676.9,856.8 688.8,871.9 699.4,866.6 711.0,858.3 723.7,861.1 733.0,860.8 744.9,865.4 756.6,875.7 767.2,868.7 779.1,865.6 791.2,894.0 801.4,881.6 812.7,887.1 824.9,845.1 835.0,853.5 846.9,851.0 858.3,853.5 869.7,848.4 881.0,850.2 892.9,854.7 903.8,847.9 915.2,834.5 927.1,828.9 938.7,827.7 949.3,820.6 961.2,816.3 972.9,802.1 984.8,800.4 994.9,798.6 1007.0,813.8 1017.1,855.3 1028.5,856.5 1040.9,850.4 1051.0,839.1 1063.2,840.6 1074.6,830.7 1085.2,820.6 1097.3,812.0 1108.7,816.0 1118.8,820.6 1131.0,833.2 1142.9,825.1 1153.0,820.1 1164.9,821.9 1175.8,811.7 1177.2,811.0 1189.1,805.4 1200.5,803.4 1211.4,803.4 1222.7,803.9 1233.4,841.3 1244.7,837.5 1256.9,830.0 1267.0,827.7 1278.9,833.2 1291.0,829.4 1301.2,827.7 1313.0,813.0 1324.4,804.2 1335.1,797.3 1347.2,812.5 1359.1,810.0 1369.5,803.6 1381.4,788.5 1392.7,786.9 1402.9,786.9 1415.0,798.3 1426.9,885.1 1438.3,866.9 1449.1,852.2 1461.0,885.6 1472.9,887.1 1483.8,892.7 1495.2,902.1 1507.1,913.7 1518.7,921.8 1529.3,929.4 1540.7,935.2 1551.3,940.0 1563.0,912.9 1574.9,923.6 1585.8,914.2 1597.1,904.1 1609.0,899.5 1619.7,886.9 1631.0,886.9 1642.7,885.1 1653.3,886.4 1665.2,883.3 1676.8,867.4 1686.7,865.9 1698.8,871.9 1711.0,889.4 1722.9,886.4 1733.0,877.0 1744.9,894.2 1756.5,888.9 1768.0,895.2 1779.4,901.1 1790.6,899.5 1801.3,913.9 1813.3,894.7 1824.7,892.6 1836.5,885.1 1847.4,877.6 1859.1,875.8 1869.8,876.6 1881.2,864.1 1891.9,867.3 1903.3,869.9 1915.1,869.4 1926.5,861.4 1937.2,858.7 1949.2,868.6 1960.6,869.1 1971.3,868.3 1982.5,863.8 1995.0,873.4 2006.5,871.5 2017.9,868.1 2029.6,865.1 2041.1,864.6 2051.0,852.1 2063.2,868.9 2074.9,863.5 2085.6,870.2 2097.0,871.5 2108.5,869.7 2119.4,869.9" fill="none" stroke="#9b4fc9" stroke-width="2" stroke-linejoin="round"/>
</g>
<g clip-path="url(#cd)">
<rect x="2" y="1038.0" width="9" height="10.4" fill="#fccbcd"/>
<rect x="13" y="1038.0" width="9" height="10.4" fill="#fccbcd"/>
<rect x="24" y="1038.0" width="10" height="8.1" fill="#fccbcd"/>
<rect x="36" y="1038.0" width="9" height="4.8" fill="#fccbcd"/>
<rect x="47" y="1037.7" width="9" height="2.3" fill="#22ab94"/>
<rect x="58" y="1035.2" width="10" height="4.8" fill="#22ab94"/>
<rect x="70" y="1032.9" width="9" height="7.1" fill="#22ab94"/>
<rect x="81" y="1035.2" width="9" height="4.8" fill="#ace5dc"/>
<rect x="92" y="1037.2" width="10" height="2.8" fill="#ace5dc"/>
<rect x="104" y="1037.2" width="9" height="2.8" fill="#ace5dc"/>
<rect x="115" y="1035.2" width="10" height="4.8" fill="#22ab94"/>
<rect x="127" y="1032.9" width="9" height="7.1" fill="#22ab94"/>
<rect x="138" y="1030.1" width="9" height="9.9" fill="#22ab94"/>
<rect x="149" y="1027.9" width="10" height="12.1" fill="#22ab94"/>
<rect x="161" y="1025.8" width="9" height="14.2" fill="#22ab94"/>
<rect x="172" y="1025.8" width="9" height="14.2" fill="#22ab94"/>
<rect x="183" y="1027.1" width="10" height="12.9" fill="#ace5dc"/>
<rect x="195" y="1025.8" width="9" height="14.2" fill="#22ab94"/>
<rect x="206" y="1027.1" width="10" height="12.9" fill="#ace5dc"/>
<rect x="218" y="1028.4" width="9" height="11.6" fill="#ace5dc"/>
<rect x="229" y="1029.1" width="9" height="10.9" fill="#ace5dc"/>
<rect x="240" y="1029.1" width="10" height="10.9" fill="#ace5dc"/>
<rect x="252" y="1029.1" width="9" height="10.9" fill="#ace5dc"/>
<rect x="263" y="1030.9" width="9" height="9.1" fill="#ace5dc"/>
<rect x="274" y="1033.9" width="10" height="6.1" fill="#ace5dc"/>
<rect x="286" y="1036.7" width="9" height="3.3" fill="#ace5dc"/>
<rect x="297" y="1037.7" width="9" height="2.3" fill="#ace5dc"/>
<rect x="308" y="1038.0" width="10" height="3.0" fill="#ff5252"/>
<rect x="320" y="1038.0" width="9" height="3.0" fill="#ff5252"/>
<rect x="331" y="1038.0" width="10" height="5.0" fill="#ff5252"/>
<rect x="343" y="1038.0" width="9" height="7.1" fill="#ff5252"/>
<rect x="354" y="1038.0" width="9" height="8.1" fill="#ff5252"/>
<rect x="365" y="1038.0" width="10" height="7.1" fill="#fccbcd"/>
<rect x="377" y="1038.0" width="9" height="5.8" fill="#fccbcd"/>
<rect x="388" y="1038.0" width="9" height="3.8" fill="#fccbcd"/>
<rect x="399" y="1038.0" width="10" height="3.8" fill="#fccbcd"/>
<rect x="411" y="1038.0" width="9" height="3.0" fill="#fccbcd"/>
<rect x="422" y="1038.0" width="9" height="3.0" fill="#fccbcd"/>
<rect x="433" y="1036.7" width="10" height="3.3" fill="#22ab94"/>
<rect x="445" y="1036.7" width="9" height="3.3" fill="#22ab94"/>
<rect x="456" y="1036.0" width="10" height="4.0" fill="#22ab94"/>
<rect x="468" y="1033.9" width="9" height="6.1" fill="#22ab94"/>
<rect x="479" y="1031.9" width="9" height="8.1" fill="#22ab94"/>
<rect x="490" y="1030.1" width="10" height="9.9" fill="#22ab94"/>
<rect x="502" y="1029.1" width="9" height="10.9" fill="#22ab94"/>
<rect x="513" y="1027.9" width="9" height="12.1" fill="#22ab94"/>
<rect x="524" y="1027.9" width="10" height="12.1" fill="#ace5dc"/>
<rect x="536" y="1030.1" width="9" height="9.9" fill="#ace5dc"/>
<rect x="547" y="1032.2" width="9" height="7.8" fill="#ace5dc"/>
<rect x="558" y="1035.2" width="10" height="4.8" fill="#ace5dc"/>
<rect x="570" y="1036.7" width="9" height="3.3" fill="#ace5dc"/>
<rect x="581" y="1036.7" width="10" height="3.3" fill="#22ab94"/>
<rect x="593" y="1037.7" width="9" height="2.3" fill="#ace5dc"/>
<rect x="604" y="1038.0" width="9" height="3.0" fill="#ff5252"/>
<rect x="615" y="1037.7" width="10" height="2.3" fill="#22ab94"/>
<rect x="627" y="1037.7" width="9" height="2.3" fill="#22ab94"/>
<rect x="638" y="1037.7" width="9" height="2.3" fill="#ace5dc"/>
<rect x="649" y="1038.0" width="10" height="3.0" fill="#ff5252"/>
<rect x="661" y="1038.0" width="9" height="3.0" fill="#fccbcd"/>
<rect x="672" y="1038.0" width="10" height="5.0" fill="#ff5252"/>
<rect x="684" y="1038.0" width="9" height="7.1" fill="#ff5252"/>
<rect x="695" y="1038.0" width="9" height="8.1" fill="#ff5252"/>
<rect x="706" y="1038.0" width="10" height="8.1" fill="#fccbcd"/>
<rect x="718" y="1038.0" width="9" height="8.1" fill="#fccbcd"/>
<rect x="729" y="1038.0" width="9" height="8.1" fill="#fccbcd"/>
<rect x="740" y="1038.0" width="10" height="8.1" fill="#ff5252"/>
<rect x="752" y="1038.0" width="9" height="9.1" fill="#ff5252"/>
<rect x="763" y="1038.0" width="9" height="9.1" fill="#fccbcd"/>
<rect x="774" y="1038.0" width="10" height="8.1" fill="#fccbcd"/>
<rect x="786" y="1038.0" width="9" height="10.1" fill="#ff5252"/>
<rect x="797" y="1038.0" width="10" height="10.1" fill="#fccbcd"/>
<rect x="809" y="1038.0" width="9" height="10.1" fill="#ff5252"/>
<rect x="820" y="1038.0" width="9" height="5.0" fill="#fccbcd"/>
<rect x="831" y="1037.7" width="10" height="2.3" fill="#22ab94"/>
<rect x="843" y="1037.7" width="9" height="2.3" fill="#22ab94"/>
<rect x="854" y="1036.7" width="9" height="3.3" fill="#22ab94"/>
<rect x="865" y="1035.7" width="10" height="4.3" fill="#22ab94"/>
<rect x="877" y="1035.7" width="9" height="4.3" fill="#22ab94"/>
<rect x="888" y="1036.7" width="9" height="3.3" fill="#ace5dc"/>
<rect x="899" y="1035.7" width="10" height="4.3" fill="#22ab94"/>
<rect x="911" y="1034.7" width="9" height="5.3" fill="#22ab94"/>
<rect x="922" y="1032.7" width="10" height="7.3" fill="#22ab94"/>
<rect x="934" y="1031.7" width="9" height="8.3" fill="#22ab94"/>
<rect x="945" y="1030.7" width="9" height="9.3" fill="#22ab94"/>
<rect x="956" y="1029.6" width="10" height="10.4" fill="#22ab94"/>
<rect x="968" y="1025.6" width="9" height="14.4" fill="#22ab94"/>
<rect x="979" y="1023.8" width="9" height="16.2" fill="#22ab94"/>
<rect x="990" y="1022.8" width="10" height="17.2" fill="#22ab94"/>
<rect x="1002" y="1024.6" width="9" height="15.4" fill="#ace5dc"/>
<rect x="1013" y="1030.7" width="9" height="9.3" fill="#ace5dc"/>
<rect x="1024" y="1035.7" width="10" height="4.3" fill="#ace5dc"/>
<rect x="1036" y="1037.7" width="9" height="2.3" fill="#ace5dc"/>
<rect x="1047" y="1037.7" width="10" height="2.3" fill="#22ab94"/>
<rect x="1059" y="1037.7" width="9" height="2.3" fill="#ace5dc"/>
<rect x="1070" y="1037.7" width="9" height="2.3" fill="#22ab94"/>
<rect x="1081" y="1034.7" width="10" height="5.3" fill="#22ab94"/>
<rect x="1093" y="1030.7" width="9" height="9.3" fill="#22ab94"/>
<rect x="1104" y="1029.6" width="9" height="10.4" fill="#22ab94"/>
<rect x="1115" y="1030.7" width="10" height="9.3" fill="#ace5dc"/>
<rect x="1127" y="1032.7" width="9" height="7.3" fill="#ace5dc"/>
<rect x="1138" y="1033.7" width="10" height="6.3" fill="#ace5dc"/>
<rect x="1150" y="1032.7" width="9" height="7.3" fill="#22ab94"/>
<rect x="1161" y="1033.7" width="9" height="6.3" fill="#ace5dc"/>
<rect x="1172" y="1031.7" width="10" height="8.3" fill="#22ab94"/>
<rect x="1184" y="1029.6" width="9" height="10.4" fill="#22ab94"/>
<rect x="1195" y="1028.9" width="9" height="11.1" fill="#22ab94"/>
<rect x="1206" y="1028.9" width="10" height="11.1" fill="#ace5dc"/>
<rect x="1218" y="1029.6" width="9" height="10.4" fill="#ace5dc"/>
<rect x="1229" y="1035.7" width="9" height="4.3" fill="#ace5dc"/>
<rect x="1240" y="1038.0" width="10" height="3.0" fill="#ff5252"/>
<rect x="1252" y="1038.0" width="9" height="3.5" fill="#ff5252"/>
<rect x="1263" y="1038.0" width="10" height="4.3" fill="#ff5252"/>
<rect x="1275" y="1038.0" width="9" height="6.1" fill="#ff5252"/>
<rect x="1286" y="1038.0" width="9" height="6.1" fill="#ff5252"/>
<rect x="1297" y="1038.0" width="10" height="7.3" fill="#ff5252"/>
<rect x="1309" y="1038.0" width="9" height="3.5" fill="#fccbcd"/>
<rect x="1320" y="1034.7" width="9" height="5.3" fill="#22ab94"/>
<rect x="1331" y="1028.9" width="10" height="11.1" fill="#22ab94"/>
<rect x="1343" y="1028.9" width="9" height="11.1" fill="#22ab94"/>
<rect x="1354" y="1027.6" width="9" height="12.4" fill="#22ab94"/>
<rect x="1365" y="1026.6" width="10" height="13.4" fill="#22ab94"/>
<rect x="1377" y="1016.7" width="9" height="23.3" fill="#22ab94"/>
<rect x="1388" y="1009.7" width="10" height="30.3" fill="#22ab94"/>
<rect x="1400" y="1007.6" width="9" height="32.4" fill="#22ab94"/>
<rect x="1411" y="1010.7" width="9" height="29.3" fill="#ace5dc"/>
<rect x="1422" y="1034.7" width="10" height="5.3" fill="#ace5dc"/>
<rect x="1434" y="1038.0" width="9" height="7.3" fill="#ff5252"/>
<rect x="1445" y="1038.0" width="9" height="6.1" fill="#fccbcd"/>
<rect x="1456" y="1038.0" width="10" height="20.2" fill="#ff5252"/>
<rect x="1468" y="1038.0" width="9" height="30.3" fill="#ff5252"/>
<rect x="1479" y="1038.0" width="9" height="38.4" fill="#ff5252"/>
<rect x="1490" y="1038.0" width="10" height="47.5" fill="#ff5252"/>
<rect x="1502" y="1038.0" width="9" height="58.4" fill="#ff5252"/>
<rect x="1513" y="1038.0" width="10" height="67.5" fill="#ff5252"/>
<rect x="1525" y="1038.0" width="9" height="76.4" fill="#ff5252"/>
<rect x="1536" y="1038.0" width="9" height="84.5" fill="#ff5252"/>
<rect x="1547" y="1038.0" width="10" height="88.3" fill="#ff5252"/>
<rect x="1559" y="1038.0" width="9" height="75.1" fill="#fccbcd"/>
<rect x="1570" y="1038.0" width="9" height="72.3" fill="#fccbcd"/>
<rect x="1581" y="1038.0" width="10" height="62.5" fill="#fccbcd"/>
<rect x="1593" y="1038.0" width="9" height="47.3" fill="#fccbcd"/>
<rect x="1604" y="1038.0" width="10" height="32.1" fill="#fccbcd"/>
<rect x="1616" y="1038.0" width="9" height="15.2" fill="#fccbcd"/>
<rect x="1627" y="1037.7" width="9" height="2.3" fill="#22ab94"/>
<rect x="1638" y="1029.6" width="10" height="10.4" fill="#22ab94"/>
<rect x="1650" y="1023.8" width="9" height="16.2" fill="#22ab94"/>
<rect x="1661" y="1018.8" width="9" height="21.2" fill="#22ab94"/>
<rect x="1672" y="1009.7" width="10" height="30.3" fill="#22ab94"/>
<rect x="1684" y="1003.6" width="9" height="36.4" fill="#22ab94"/>
<rect x="1695" y="1002.6" width="9" height="37.4" fill="#22ab94"/>
<rect x="1706" y="1011.7" width="10" height="28.3" fill="#ace5dc"/>
<rect x="1718" y="1016.7" width="9" height="23.3" fill="#ace5dc"/>
<rect x="1729" y="1016.7" width="10" height="23.3" fill="#ace5dc"/>
<rect x="1741" y="1025.9" width="9" height="14.1" fill="#ace5dc"/>
<rect x="1752" y="1029.9" width="9" height="10.1" fill="#ace5dc"/>
<rect x="1763" y="1034.7" width="10" height="5.3" fill="#ace5dc"/>
<rect x="1775" y="1038.0" width="9" height="3.9" fill="#ff5252"/>
<rect x="1786" y="1038.0" width="9" height="6.6" fill="#ff5252"/>
<rect x="1797" y="1038.0" width="10" height="15.4" fill="#ff5252"/>
<rect x="1809" y="1038.0" width="9" height="13.3" fill="#fccbcd"/>
<rect x="1820" y="1038.0" width="9" height="9.8" fill="#fccbcd"/>
<rect x="1831" y="1038.0" width="10" height="4.7" fill="#fccbcd"/>
<rect x="1843" y="1035.3" width="9" height="4.7" fill="#22ab94"/>
<rect x="1854" y="1029.1" width="10" height="10.9" fill="#22ab94"/>
<rect x="1866" y="1025.9" width="9" height="14.1" fill="#22ab94"/>
<rect x="1877" y="1020.1" width="9" height="19.9" fill="#22ab94"/>
<rect x="1888" y="1018.0" width="10" height="22.0" fill="#22ab94"/>
<rect x="1900" y="1019.0" width="9" height="21.0" fill="#ace5dc"/>
<rect x="1911" y="1020.1" width="9" height="19.9" fill="#ace5dc"/>
<rect x="1922" y="1019.0" width="10" height="21.0" fill="#22ab94"/>
<rect x="1934" y="1018.0" width="9" height="22.0" fill="#22ab94"/>
<rect x="1945" y="1021.1" width="10" height="18.9" fill="#ace5dc"/>
<rect x="1957" y="1024.6" width="9" height="15.4" fill="#ace5dc"/>
<rect x="1968" y="1026.7" width="9" height="13.3" fill="#ace5dc"/>
<rect x="1979" y="1028.1" width="10" height="11.9" fill="#ace5dc"/>
<rect x="1991" y="1032.1" width="9" height="7.9" fill="#ace5dc"/>
<rect x="2002" y="1033.9" width="9" height="6.1" fill="#ace5dc"/>
<rect x="2013" y="1035.3" width="10" height="4.7" fill="#ace5dc"/>
<rect x="2025" y="1036.1" width="9" height="3.9" fill="#ace5dc"/>
<rect x="2036" y="1036.1" width="9" height="3.9" fill="#ace5dc"/>
<rect x="2047" y="1033.9" width="10" height="6.1" fill="#22ab94"/>
<rect x="2059" y="1036.1" width="9" height="3.9" fill="#ace5dc"/>
<rect x="2070" y="1036.1" width="10" height="3.9" fill="#ace5dc"/>
<rect x="2082" y="1037.7" width="9" height="2.3" fill="#ace5dc"/>
<rect x="2093" y="1038.0" width="9" height="2.6" fill="#ff5252"/>
<rect x="2104" y="1038.0" width="10" height="3.4" fill="#ff5252"/>
<rect x="2116" y="1038.0" width="9" height="4.7" fill="#ff5252"/>
<path d="M0.0 1068.9C2.5 1069.3 7.6 1070.3 12.6 1070.7C17.7 1071.1 19.8 1071.5 25.3 1070.9C30.8 1070.3 33.6 1069.6 40.0 1067.6C46.3 1065.7 50.1 1063.8 56.9 1061.3C63.7 1058.8 68.3 1056.2 74.1 1055.2C79.9 1054.2 81.5 1055.7 86.0 1056.2C90.6 1056.8 92.4 1057.7 96.9 1058.0C101.3 1058.4 103.7 1058.7 108.3 1058.0C112.8 1057.3 115.0 1056.2 119.7 1054.5C124.3 1052.8 126.9 1051.3 131.5 1049.4C136.2 1047.5 138.4 1046.5 142.9 1044.9C147.5 1043.2 149.8 1042.9 154.3 1041.1C158.9 1039.2 161.1 1037.3 165.7 1035.5C170.3 1033.7 172.5 1033.5 177.1 1032.2C181.6 1030.9 183.9 1030.3 188.5 1028.9C193.0 1027.5 195.3 1026.3 199.8 1025.1C204.4 1023.9 206.7 1023.7 211.2 1022.9C215.8 1022.0 218.1 1021.7 222.6 1020.8C227.2 1019.9 229.4 1019.2 234.0 1018.3C238.6 1017.4 240.8 1017.2 245.4 1016.5C249.9 1015.9 252.2 1015.3 256.8 1015.0C261.3 1014.7 263.6 1014.7 268.2 1015.0C272.7 1015.3 275.0 1015.9 279.5 1016.5C284.1 1017.2 286.4 1017.6 290.9 1018.3C295.5 1019.0 297.7 1019.4 302.3 1020.1C306.9 1020.7 309.1 1021.0 313.7 1021.6C318.2 1022.1 320.5 1022.1 325.1 1022.9C329.6 1023.6 331.9 1024.2 336.5 1025.1C341.0 1026.1 343.3 1026.7 347.8 1027.7C352.4 1028.7 354.7 1029.5 359.2 1030.2C363.8 1030.8 366.1 1030.8 370.6 1031.0C375.2 1031.1 377.4 1031.2 382.0 1031.0C386.5 1030.7 388.8 1030.0 393.4 1029.7C397.9 1029.3 400.2 1029.4 404.8 1029.2C409.3 1029.0 411.6 1029.1 416.1 1028.7C420.7 1028.3 423.0 1027.9 427.5 1027.2C432.1 1026.4 434.4 1025.8 438.9 1025.1C443.5 1024.5 445.7 1024.4 450.3 1023.9C454.8 1023.3 457.1 1023.2 461.7 1022.4C466.2 1021.5 468.5 1021.0 473.1 1019.6C477.6 1018.1 479.9 1016.8 484.4 1015.0C489.0 1013.2 491.3 1012.2 495.8 1010.7C500.4 1009.2 502.7 1009.3 507.2 1007.7C511.8 1006.0 514.0 1003.9 518.6 1002.4C523.1 1000.8 525.4 1000.7 530.0 1000.1C534.5 999.4 536.8 999.1 541.4 999.1C545.9 999.0 548.2 999.4 552.7 999.8C557.3 1000.3 559.6 1000.8 564.1 1001.4C568.7 1001.9 571.0 1002.3 575.5 1002.4C580.1 1002.5 582.7 1001.7 586.9 1001.9C591.1 1002.0 592.5 1002.6 596.7 1003.1C600.9 1003.6 603.5 1004.3 608.1 1004.4C612.6 1004.5 614.9 1003.9 619.5 1003.6C624.0 1003.4 626.3 1003.1 630.8 1003.1C635.4 1003.1 637.7 1003.2 642.2 1003.6C646.8 1004.0 649.1 1004.7 653.6 1005.1C658.2 1005.6 660.4 1005.2 665.0 1005.7C669.6 1006.1 671.8 1006.4 676.4 1007.4C680.9 1008.4 683.2 1009.5 687.8 1010.7C692.3 1011.9 694.6 1012.5 699.2 1013.2C703.7 1014.0 706.0 1014.0 710.5 1014.5C715.1 1015.0 717.4 1015.3 721.9 1015.8C726.5 1016.3 728.8 1016.4 733.3 1017.0C737.8 1017.6 739.9 1018.0 744.4 1018.8C748.9 1019.6 751.3 1020.1 755.8 1020.8C760.4 1021.6 762.6 1022.0 767.2 1022.6C771.8 1023.2 774.0 1023.0 778.6 1023.9C783.1 1024.8 785.4 1026.0 790.0 1027.2C794.5 1028.3 796.8 1028.8 801.4 1029.7C805.9 1030.6 808.2 1032.2 812.7 1031.7C817.3 1031.2 819.6 1028.7 824.1 1027.2C828.7 1025.6 830.9 1025.0 835.5 1023.9C840.1 1022.8 842.3 1022.4 846.9 1021.6C851.4 1020.8 853.7 1020.7 858.3 1020.1C862.8 1019.4 865.1 1018.8 869.7 1018.3C874.2 1017.8 876.5 1017.7 881.0 1017.5C885.6 1017.4 887.9 1017.7 892.4 1017.5C897.0 1017.3 899.3 1017.4 903.8 1016.5C908.4 1015.7 910.6 1014.5 915.2 1013.2C919.7 1012.0 922.1 1011.3 926.6 1010.2C931.1 1009.1 933.2 1008.8 937.7 1007.7C942.2 1006.5 944.5 1005.7 949.1 1004.4C953.6 1003.1 955.9 1003.3 960.5 1001.4C965.0 999.4 967.3 997.5 971.9 994.8C976.4 992.1 978.7 990.2 983.2 987.9C987.8 985.7 990.1 984.7 994.6 983.4C999.2 982.1 1001.5 981.2 1006.0 981.6C1010.6 982.0 1012.8 983.9 1017.4 985.4C1021.9 986.9 1024.2 988.0 1028.8 989.2C1033.3 990.4 1035.6 990.8 1040.2 991.2C1044.7 991.6 1047.0 991.1 1051.5 991.2C1056.1 991.3 1058.4 991.9 1062.9 991.7C1067.5 991.6 1069.8 991.6 1074.3 990.5C1078.9 989.4 1081.1 988.2 1085.7 986.2C1090.2 984.2 1092.5 982.2 1097.1 980.4C1101.6 978.5 1103.9 978.0 1108.5 977.1C1113.0 976.2 1115.3 975.9 1119.8 975.8C1124.3 975.8 1126.5 976.8 1131.0 976.8C1135.5 976.8 1137.8 976.4 1142.4 975.8C1146.9 975.2 1149.2 974.5 1153.7 974.0C1158.3 973.5 1160.6 974.0 1165.1 973.3C1169.7 972.5 1171.9 971.9 1176.4 970.2C1181.0 968.6 1183.3 967.5 1187.8 965.2C1192.4 962.9 1194.7 960.8 1199.2 958.9C1203.8 956.9 1206.0 955.9 1210.6 955.6C1215.1 955.2 1217.4 955.8 1222.0 957.1C1226.5 958.4 1228.8 960.5 1233.4 962.1C1237.9 963.8 1240.2 964.1 1244.7 965.2C1249.3 966.3 1251.6 966.9 1256.1 967.7C1260.7 968.5 1263.0 968.3 1267.5 969.0C1272.1 969.6 1274.3 970.3 1278.9 971.0C1283.5 971.7 1285.7 971.7 1290.3 972.3C1294.8 972.9 1297.1 974.4 1301.7 974.0C1306.2 973.6 1308.5 972.3 1313.0 970.2C1317.6 968.2 1319.9 966.9 1324.4 963.9C1329.0 960.9 1331.3 958.9 1335.8 955.1C1340.4 951.3 1342.6 949.0 1347.2 944.9C1351.8 940.9 1340.4 943.9 1358.6 934.8C1376.8 925.7 1420.1 901.4 1438.3 899.4C1456.5 897.4 1445.1 914.1 1449.7 924.7C1454.2 935.3 1456.5 943.7 1461.0 952.5C1465.6 961.4 1467.9 962.1 1472.4 969.0C1477.0 975.8 1479.3 979.6 1483.8 986.7C1488.4 993.8 1490.6 996.0 1495.2 1004.4C1499.7 1012.7 1502.0 1017.5 1506.6 1028.4C1511.1 1039.3 1513.4 1047.6 1518.0 1058.8C1522.5 1069.9 1524.8 1073.5 1529.3 1084.1C1533.9 1094.7 1536.2 1101.2 1540.7 1111.9C1545.3 1122.6 1547.6 1131.4 1552.1 1137.7C1556.7 1144.0 1558.9 1141.1 1563.5 1143.5C1568.0 1146.0 1570.3 1148.1 1574.9 1149.8C1579.4 1151.6 1581.7 1151.9 1586.3 1152.4C1590.8 1152.9 1593.1 1153.1 1597.6 1152.4C1602.2 1151.6 1604.5 1151.6 1609.0 1148.6C1613.6 1145.5 1615.9 1142.0 1620.4 1137.2C1625.0 1132.4 1627.2 1129.5 1631.8 1124.6C1636.3 1119.6 1638.6 1117.2 1643.2 1112.7C1647.7 1108.1 1650.0 1105.8 1654.6 1101.8C1659.1 1097.7 1661.4 1097.7 1665.9 1092.4C1670.5 1087.1 1672.8 1081.8 1677.3 1075.2C1681.9 1068.6 1684.2 1064.1 1688.7 1059.3C1693.3 1054.5 1695.5 1052.5 1700.1 1051.2C1704.6 1049.9 1706.9 1052.7 1711.5 1053.0C1716.0 1053.2 1718.6 1053.7 1722.9 1052.5C1727.2 1051.2 1728.4 1046.9 1733.0 1046.9C1737.5 1046.9 1740.8 1051.0 1745.6 1052.5C1750.4 1053.9 1752.7 1053.4 1757.0 1054.2C1761.4 1055.1 1763.1 1054.5 1767.4 1056.6C1771.8 1058.7 1774.4 1062.1 1778.9 1064.6C1783.4 1067.1 1785.6 1065.8 1790.1 1069.1C1794.6 1072.4 1797.0 1078.6 1801.6 1081.1C1806.1 1083.5 1808.5 1081.6 1813.0 1081.4C1817.5 1081.1 1819.7 1081.5 1824.2 1080.0C1828.7 1078.5 1831.1 1076.6 1835.7 1073.9C1840.2 1071.2 1842.3 1069.4 1846.8 1066.4C1851.4 1063.5 1853.7 1062.0 1858.3 1059.2C1862.9 1056.5 1865.2 1056.0 1869.8 1052.6C1874.3 1049.1 1876.4 1045.4 1881.0 1041.9C1885.5 1038.5 1887.8 1037.7 1892.4 1035.3C1897.0 1032.9 1899.3 1031.8 1903.9 1029.9C1908.4 1028.1 1910.5 1028.1 1915.1 1025.9C1919.6 1023.8 1921.9 1021.8 1926.5 1019.3C1931.1 1016.7 1933.4 1014.6 1938.0 1013.1C1942.5 1011.7 1944.6 1012.4 1949.2 1012.1C1953.7 1011.8 1956.0 1011.8 1960.6 1011.6C1965.2 1011.3 1967.6 1011.2 1972.1 1010.8C1976.6 1010.3 1978.7 1009.5 1983.3 1009.4C1987.8 1009.4 1990.2 1010.0 1994.7 1010.5C1999.3 1011.0 2001.4 1011.5 2005.9 1011.8C2010.5 1012.1 2012.8 1012.1 2017.4 1012.1C2022.0 1012.1 2024.3 1011.9 2028.8 1011.8C2033.4 1011.7 2035.5 1012.5 2040.0 1011.6C2044.6 1010.6 2046.9 1007.9 2051.5 1007.3C2056.1 1006.6 2058.4 1008.2 2062.9 1008.4C2067.5 1008.5 2069.6 1007.8 2074.1 1008.1C2078.7 1008.4 2081.0 1009.0 2085.6 1009.7C2090.2 1010.3 2092.5 1010.6 2097.0 1011.3C2101.6 1011.9 2103.7 1012.2 2108.2 1012.9C2112.8 1013.6 2117.4 1014.4 2119.7 1014.7" fill="none" stroke="#2196f3" stroke-width="2" stroke-linejoin="round"/>
<path d="M0.0 1060.5C2.5 1061.1 7.6 1062.3 12.6 1063.1C17.7 1063.9 19.8 1064.1 25.3 1064.6C30.8 1065.1 33.6 1065.6 40.0 1065.6C46.3 1065.6 50.1 1065.3 56.9 1064.6C63.7 1063.9 68.3 1063.0 74.1 1062.3C79.9 1061.7 81.5 1061.7 86.0 1061.3C90.6 1061.0 92.4 1060.9 96.9 1060.5C101.3 1060.2 103.7 1060.1 108.3 1059.8C112.8 1059.4 115.0 1059.3 119.7 1058.8C124.3 1058.2 126.9 1057.9 131.5 1057.0C136.2 1056.1 138.4 1055.6 142.9 1054.5C147.5 1053.3 149.8 1052.6 154.3 1051.2C158.9 1049.8 161.1 1048.8 165.7 1047.4C170.3 1046.0 172.5 1045.5 177.1 1044.1C181.6 1042.7 183.9 1042.1 188.5 1040.6C193.0 1039.0 195.3 1037.9 199.8 1036.5C204.4 1035.1 206.7 1034.7 211.2 1033.5C215.8 1032.3 218.1 1031.6 222.6 1030.4C227.2 1029.3 229.4 1028.8 234.0 1027.9C238.6 1027.0 240.8 1026.7 245.4 1025.9C249.9 1025.1 252.2 1024.8 256.8 1024.1C261.3 1023.5 263.6 1023.1 268.2 1022.6C272.7 1022.1 275.0 1021.9 279.5 1021.6C284.1 1021.2 286.4 1021.0 290.9 1020.8C295.5 1020.7 297.7 1020.8 302.3 1020.8C306.9 1020.8 309.1 1020.7 313.7 1020.8C318.2 1020.9 320.5 1021.1 325.1 1021.3C329.6 1021.6 331.9 1021.7 336.5 1022.1C341.0 1022.5 343.3 1022.9 347.8 1023.4C352.4 1023.9 354.7 1024.1 359.2 1024.6C363.8 1025.1 366.1 1025.5 370.6 1025.9C375.2 1026.3 377.4 1026.4 382.0 1026.7C386.5 1026.9 388.8 1027.0 393.4 1027.2C397.9 1027.4 400.2 1027.5 404.8 1027.7C409.3 1027.8 411.6 1027.9 416.1 1027.9C420.7 1027.9 423.0 1027.8 427.5 1027.7C432.1 1027.5 434.4 1027.4 438.9 1027.2C443.5 1026.9 445.7 1026.8 450.3 1026.4C454.8 1026.0 457.1 1025.9 461.7 1025.4C466.2 1024.9 468.5 1024.6 473.1 1023.9C477.6 1023.1 479.9 1022.6 484.4 1021.6C489.0 1020.6 491.3 1020.1 495.8 1019.1C500.4 1018.0 502.7 1017.7 507.2 1016.5C511.8 1015.4 514.0 1014.4 518.6 1013.2C523.1 1012.1 525.4 1011.6 530.0 1010.7C534.5 1009.8 536.8 1009.4 541.4 1008.7C545.9 1007.9 548.2 1007.5 552.7 1006.9C557.3 1006.3 559.6 1006.1 564.1 1005.7C568.7 1005.2 571.0 1005.1 575.5 1004.9C580.1 1004.6 582.7 1004.5 586.9 1004.4C591.1 1004.3 592.5 1004.4 596.7 1004.4C600.9 1004.3 603.5 1004.2 608.1 1004.1C612.6 1004.0 614.9 1003.9 619.5 1003.9C624.0 1003.8 626.3 1003.9 630.8 1003.9C635.4 1003.9 637.7 1003.9 642.2 1003.9C646.8 1003.9 649.1 1003.9 653.6 1003.9C658.2 1003.9 660.4 1003.8 665.0 1003.9C669.6 1004.0 671.8 1004.0 676.4 1004.4C680.9 1004.7 683.2 1005.0 687.8 1005.7C692.3 1006.3 694.6 1006.8 699.2 1007.4C703.7 1008.1 706.0 1008.4 710.5 1008.9C715.1 1009.5 717.4 1009.6 721.9 1010.2C726.5 1010.8 728.8 1011.4 733.3 1012.0C737.8 1012.6 739.9 1012.6 744.4 1013.2C748.9 1013.9 751.3 1014.4 755.8 1015.0C760.4 1015.7 762.6 1015.9 767.2 1016.5C771.8 1017.2 774.0 1017.6 778.6 1018.3C783.1 1019.0 785.4 1019.3 790.0 1020.1C794.5 1020.8 796.8 1021.3 801.4 1022.1C805.9 1022.9 808.2 1023.5 812.7 1023.9C817.3 1024.3 819.6 1024.1 824.1 1024.1C828.7 1024.2 830.9 1024.2 835.5 1024.1C840.1 1024.0 842.3 1023.9 846.9 1023.6C851.4 1023.4 853.7 1023.2 858.3 1022.9C862.8 1022.5 865.1 1022.2 869.7 1021.8C874.2 1021.5 876.5 1021.4 881.0 1021.1C885.6 1020.8 887.9 1020.7 892.4 1020.3C897.0 1020.0 899.3 1019.7 903.8 1019.3C908.4 1018.9 910.6 1018.8 915.2 1018.3C919.7 1017.8 922.1 1017.4 926.6 1016.8C931.1 1016.1 933.2 1015.8 937.7 1015.0C942.2 1014.2 944.5 1013.6 949.1 1012.7C953.6 1011.9 955.9 1011.7 960.5 1010.7C965.0 1009.7 967.3 1009.0 971.9 1007.7C976.4 1006.3 978.7 1005.4 983.2 1003.9C987.8 1002.4 990.1 1001.7 994.6 1000.1C999.2 998.5 1001.5 997.3 1006.0 996.0C1010.6 994.8 1012.8 994.4 1017.4 993.8C1021.9 993.2 1024.2 993.2 1028.8 993.0C1033.3 992.8 1035.6 992.8 1040.2 992.8C1044.7 992.7 1047.0 992.8 1051.5 992.8C1056.1 992.8 1058.4 992.9 1062.9 992.8C1067.5 992.7 1069.8 992.6 1074.3 992.2C1078.9 991.9 1081.1 991.6 1085.7 991.0C1090.2 990.4 1092.5 990.1 1097.1 989.2C1101.6 988.4 1103.9 987.6 1108.5 986.7C1113.0 985.8 1115.3 985.4 1119.8 984.7C1124.3 983.9 1126.5 983.6 1131.0 982.9C1135.5 982.2 1137.8 981.8 1142.4 981.1C1146.9 980.5 1149.2 980.3 1153.7 979.6C1158.3 978.9 1160.6 978.4 1165.1 977.8C1169.7 977.2 1171.9 977.2 1176.4 976.6C1181.0 975.9 1183.3 975.6 1187.8 974.5C1192.4 973.5 1194.7 972.6 1199.2 971.5C1203.8 970.4 1206.0 969.9 1210.6 969.0C1215.1 968.1 1217.4 967.6 1222.0 966.9C1226.5 966.3 1228.8 966.1 1233.4 965.9C1237.9 965.7 1240.2 965.8 1244.7 965.9C1249.3 966.0 1251.6 966.2 1256.1 966.4C1260.7 966.7 1263.0 966.8 1267.5 967.2C1272.1 967.6 1274.3 967.9 1278.9 968.2C1283.5 968.6 1285.7 968.7 1290.3 969.0C1294.8 969.3 1297.1 969.6 1301.7 969.7C1306.2 969.9 1308.5 970.0 1313.0 969.7C1317.6 969.5 1319.9 969.3 1324.4 968.5C1329.0 967.7 1331.3 966.7 1335.8 965.7C1340.4 964.6 1342.6 964.2 1347.2 963.2C1351.8 962.1 1354.0 962.0 1358.6 960.6C1363.1 959.3 1359.1 962.5 1370.0 956.3C1380.8 950.2 1394.3 935.1 1413.0 929.8C1431.7 924.4 1449.4 925.7 1463.6 929.8C1477.7 933.8 1477.7 943.8 1483.8 950.0C1489.9 956.2 1489.4 955.6 1493.9 960.6C1498.5 965.7 1501.8 968.8 1506.6 975.3C1511.4 981.8 1513.4 985.9 1518.0 993.0C1522.5 1000.1 1524.8 1003.1 1529.3 1010.7C1533.9 1018.3 1536.2 1022.4 1540.7 1031.0C1545.3 1039.6 1547.6 1045.6 1552.1 1053.7C1556.7 1061.8 1558.9 1064.3 1563.5 1071.4C1568.0 1078.5 1570.3 1082.3 1574.9 1089.1C1579.4 1096.0 1581.7 1100.3 1586.3 1105.6C1590.8 1110.9 1593.1 1112.5 1597.6 1115.7C1602.2 1118.9 1604.5 1119.8 1609.0 1121.5C1613.6 1123.2 1615.9 1123.5 1620.4 1124.0C1625.0 1124.6 1627.2 1124.4 1631.8 1124.0C1636.3 1123.6 1638.6 1123.3 1643.2 1122.0C1647.7 1120.7 1650.0 1119.3 1654.6 1117.5C1659.1 1115.6 1661.4 1115.0 1665.9 1112.7C1670.5 1110.3 1672.8 1108.9 1677.3 1105.6C1681.9 1102.2 1684.2 1099.8 1688.7 1096.0C1693.3 1092.2 1695.5 1089.9 1700.1 1086.6C1704.6 1083.3 1706.9 1082.1 1711.5 1079.5C1716.0 1077.0 1718.3 1076.2 1722.9 1074.0C1727.4 1071.7 1729.7 1070.0 1734.2 1068.1C1738.8 1066.3 1741.1 1065.7 1745.6 1064.6C1750.2 1063.5 1752.7 1063.0 1757.0 1062.6C1761.4 1062.1 1763.1 1062.4 1767.4 1062.4C1771.8 1062.5 1774.4 1062.7 1778.9 1063.0C1783.4 1063.3 1785.6 1063.2 1790.1 1064.0C1794.6 1064.9 1797.0 1066.1 1801.6 1067.2C1806.1 1068.4 1808.5 1069.0 1813.0 1069.9C1817.5 1070.8 1819.7 1071.2 1824.2 1071.8C1828.7 1072.3 1831.1 1072.6 1835.7 1072.6C1840.2 1072.6 1842.3 1072.4 1846.8 1071.8C1851.4 1071.1 1853.7 1070.5 1858.3 1069.4C1862.9 1068.2 1865.2 1067.5 1869.8 1065.9C1874.3 1064.3 1876.4 1063.2 1881.0 1061.4C1885.5 1059.5 1887.8 1058.6 1892.4 1056.6C1897.0 1054.6 1899.3 1053.3 1903.9 1051.3C1908.4 1049.2 1910.5 1048.4 1915.1 1046.5C1919.6 1044.5 1921.9 1043.5 1926.5 1041.4C1931.1 1039.3 1933.4 1038.1 1938.0 1036.1C1942.5 1034.0 1944.6 1033.1 1949.2 1031.3C1953.7 1029.4 1956.0 1028.3 1960.6 1026.7C1965.2 1025.1 1967.6 1024.6 1972.1 1023.3C1976.6 1022.0 1978.7 1021.3 1983.3 1020.3C1987.8 1019.4 1990.2 1019.2 1994.7 1018.5C1999.3 1017.8 2001.4 1017.4 2005.9 1016.9C2010.5 1016.3 2012.8 1016.2 2017.4 1015.8C2022.0 1015.4 2024.3 1015.3 2028.8 1015.0C2033.4 1014.7 2035.5 1014.9 2040.0 1014.5C2044.6 1014.1 2046.9 1013.6 2051.5 1013.1C2056.1 1012.7 2058.4 1012.6 2062.9 1012.4C2067.5 1012.1 2069.6 1012.0 2074.1 1011.8C2078.7 1011.7 2081.0 1011.6 2085.6 1011.6C2090.2 1011.6 2092.5 1011.7 2097.0 1011.8C2101.6 1011.9 2103.7 1011.9 2108.2 1012.1C2112.8 1012.2 2117.4 1012.5 2119.7 1012.6" fill="none" stroke="#ff6d00" stroke-width="2" stroke-linejoin="round"/>
</g>
<text x="2256.7" y="91.3" font-size="24" fill="#131722" textLength="94.6" lengthAdjust="spacingAndGlyphs">5600.00</text>
<text x="2256.7" y="201.3" font-size="24" fill="#131722" textLength="94.6" lengthAdjust="spacingAndGlyphs">5400.00</text>
<text x="2256.7" y="311.3" font-size="24" fill="#131722" textLength="94.6" lengthAdjust="spacingAndGlyphs">5200.00</text>
<text x="2256.7" y="421.3" font-size="24" fill="#131722" textLength="94.6" lengthAdjust="spacingAndGlyphs">5000.00</text>
<text x="2256.7" y="531.3" font-size="24" fill="#131722" textLength="94.6" lengthAdjust="spacingAndGlyphs">4800.00</text>
<text x="2256.7" y="641.3" font-size="24" fill="#131722" textLength="94.6" lengthAdjust="spacingAndGlyphs">4600.00</text>
<text x="2256.7" y="750.3" font-size="24" fill="#131722" textLength="94.6" lengthAdjust="spacingAndGlyphs">4400.00</text>
<text x="2256.7" y="828.3" font-size="24" fill="#131722" textLength="64.3" lengthAdjust="spacingAndGlyphs">75.00</text>
<text x="2256.7" y="890.8" font-size="24" fill="#131722" textLength="64.3" lengthAdjust="spacingAndGlyphs">50.00</text>
<text x="2256.7" y="953.3" font-size="24" fill="#131722" textLength="64.3" lengthAdjust="spacingAndGlyphs">25.00</text>
<text x="2255.3" y="1137.8" font-size="24" fill="#131722" textLength="96.0" lengthAdjust="spacingAndGlyphs">−100.00</text>
<g><path d="M2239 146h120a4 4 0 0 1 4 4v26a4 4 0 0 1-4 4h-120z" fill="#f23645"/>
<text x="2256.7" y="171.3" font-size="24" fill="#ffffff" textLength="94.6" lengthAdjust="spacingAndGlyphs">5454.34</text>
</g>
<g><path d="M2239 327h120a4 4 0 0 1 4 4v26a4 4 0 0 1-4 4h-120z" fill="#f23645"/>
<text x="2256.7" y="352.3" font-size="24" fill="#ffffff" textLength="94.6" lengthAdjust="spacingAndGlyphs">5107.00</text>
</g>
<g><path d="M2239 361h120a4 4 0 0 1 4 4v26a4 4 0 0 1-4 4h-120z" fill="#f23645"/>
<text x="2256.7" y="386.3" font-size="24" fill="#ffffff" textLength="94.6" lengthAdjust="spacingAndGlyphs">5063.59</text>
</g>
<g><path d="M2239 395h120a4 4 0 0 1 4 4v26a4 4 0 0 1-4 4h-120z" fill="#2196f3"/>
<text x="2256.7" y="420.3" font-size="24" fill="#ffffff" textLength="94.6" lengthAdjust="spacingAndGlyphs">5009.15</text>
</g>
<g><path d="M2239 586h120a4 4 0 0 1 4 4v26a4 4 0 0 1-4 4h-120z" fill="#089981"/>
<text x="2256.7" y="611.3" font-size="24" fill="#ffffff" textLength="94.6" lengthAdjust="spacingAndGlyphs">4654.61</text>
</g>
<g><path d="M2239 723h120a4 4 0 0 1 4 4v26a4 4 0 0 1-4 4h-120z" fill="#089981"/>
<text x="2256.7" y="748.3" font-size="24" fill="#ffffff" textLength="94.6" lengthAdjust="spacingAndGlyphs">4405.47</text>
</g>
<g><path d="M2239 853h90a4 4 0 0 1 4 4v26a4 4 0 0 1-4 4h-90z" fill="#9b55c9"/>
<text x="2256.7" y="878.3" font-size="24" fill="#ffffff" textLength="64.3" lengthAdjust="spacingAndGlyphs">55.21</text>
</g>
<g clip-path="url(#cda)"><path d="M2239 957h90a4 4 0 0 1 4 4v26a4 4 0 0 1-4 4h-90z" fill="#ff6d00"/>
<text x="2256.7" y="982.3" font-size="24" fill="#ffffff" textLength="64.3" lengthAdjust="spacingAndGlyphs">29.78</text>
</g>
<g><path d="M2239 991h90a4 4 0 0 1 4 4v26a4 4 0 0 1-4 4h-90z" fill="#2196f3"/>
<text x="2256.7" y="1016.3" font-size="24" fill="#ffffff" textLength="64.3" lengthAdjust="spacingAndGlyphs">27.42</text>
</g>
<g><path d="M2239 1025h90a4 4 0 0 1 4 4v26a4 4 0 0 1-4 4h-90z" fill="#ff5252"/>
<text x="2256.7" y="1050.3" font-size="24" fill="#ffffff" textLength="64.3" lengthAdjust="spacingAndGlyphs">−2.35</text>
</g>
<text x="268.0" y="1181.3" font-size="24" fill="#131722" text-anchor="middle">7</text>
<text x="472.0" y="1181.3" font-size="24" fill="#131722" text-anchor="middle">11</text>
<text x="688.0" y="1181.3" font-size="24" fill="#131722" text-anchor="middle">15</text>
<text x="904.0" y="1181.3" font-size="24" fill="#131722" text-anchor="middle">20</text>
<text x="1108.0" y="1181.3" font-size="24" fill="#131722" text-anchor="middle">23</text>
<text x="1324.5" y="1181.3" font-size="24" fill="#131722" text-anchor="middle">28</text>
<text x="1528.5" y="1181.3" font-size="24" fill="#131722" text-anchor="middle">Feb</text>
<text x="1745.0" y="1181.3" font-size="24" fill="#131722" text-anchor="middle">5</text>
<text x="1961.0" y="1181.3" font-size="24" fill="#131722" text-anchor="middle">10</text>
<text x="2165.5" y="1181.3" font-size="24" fill="#131722" text-anchor="middle">13</text>
<text x="41.0" y="1181.3" font-size="24" fill="#131722" textLength="62.0" lengthAdjust="spacingAndGlyphs" font-weight="bold" text-anchor="middle">2026</text>
<text x="17.8" y="41.3" font-size="24" fill="#131722" textLength="480.6" lengthAdjust="spacingAndGlyphs">Gold US Dollars per Ounce Spot Prices, 4h</text>
<text x="513.7" y="41.3" font-size="24" fill="#131722">O</text>
<text x="532.4" y="41.3" font-size="24" fill="#f23645" textLength="95.0" lengthAdjust="spacingAndGlyphs">5064.64</text>
<text x="642.1" y="41.3" font-size="24" fill="#131722">H</text>
<text x="660.4" y="41.3" font-size="24" fill="#f23645" textLength="95.0" lengthAdjust="spacingAndGlyphs">5080.89</text>
<text x="770.9" y="41.3" font-size="24" fill="#131722">L</text>
<text x="783.7" y="41.3" font-size="24" fill="#f23645" textLength="93.9" lengthAdjust="spacingAndGlyphs">5052.56</text>
<text x="892.3" y="41.3" font-size="24" fill="#131722">C</text>
<text x="909.8" y="41.3" font-size="24" fill="#f23645" textLength="94.6" lengthAdjust="spacingAndGlyphs">5063.59</text>
<text x="1020.0" y="41.3" font-size="24" fill="#f23645" textLength="171.8" lengthAdjust="spacingAndGlyphs">−0.42 (−0.01%)</text>
<text x="17.8" y="75.8" font-size="24" fill="#131722" textLength="203.1" lengthAdjust="spacingAndGlyphs">MA (100, close, 0)</text>
<text x="236.5" y="75.8" font-size="24" fill="#2196f3" textLength="90.2" lengthAdjust="spacingAndGlyphs">5009.15</text>
<text x="17.7" y="817.6" font-size="24" fill="#131722" textLength="86.0" lengthAdjust="spacingAndGlyphs">RSI (14)</text>
<text x="120.7" y="817.6" font-size="24" fill="#9b4fc9" textLength="58.9" lengthAdjust="spacingAndGlyphs">55.21</text>
<text x="17.8" y="1001.4" font-size="24" fill="#131722" textLength="264.2" lengthAdjust="spacingAndGlyphs">MACD (12, 26, close, 9)</text>
<text x="298.5" y="1001.4" font-size="24" fill="#ff5252" textLength="63.5" lengthAdjust="spacingAndGlyphs">−2.35</text>
<text x="377.7" y="1001.4" font-size="24" fill="#2196f3" textLength="59.3" lengthAdjust="spacingAndGlyphs">27.42</text>
<text x="452.8" y="1001.4" font-size="24" fill="#ff6d00" textLength="62.0" lengthAdjust="spacingAndGlyphs">29.78</text>
</svg>
</body></html>
